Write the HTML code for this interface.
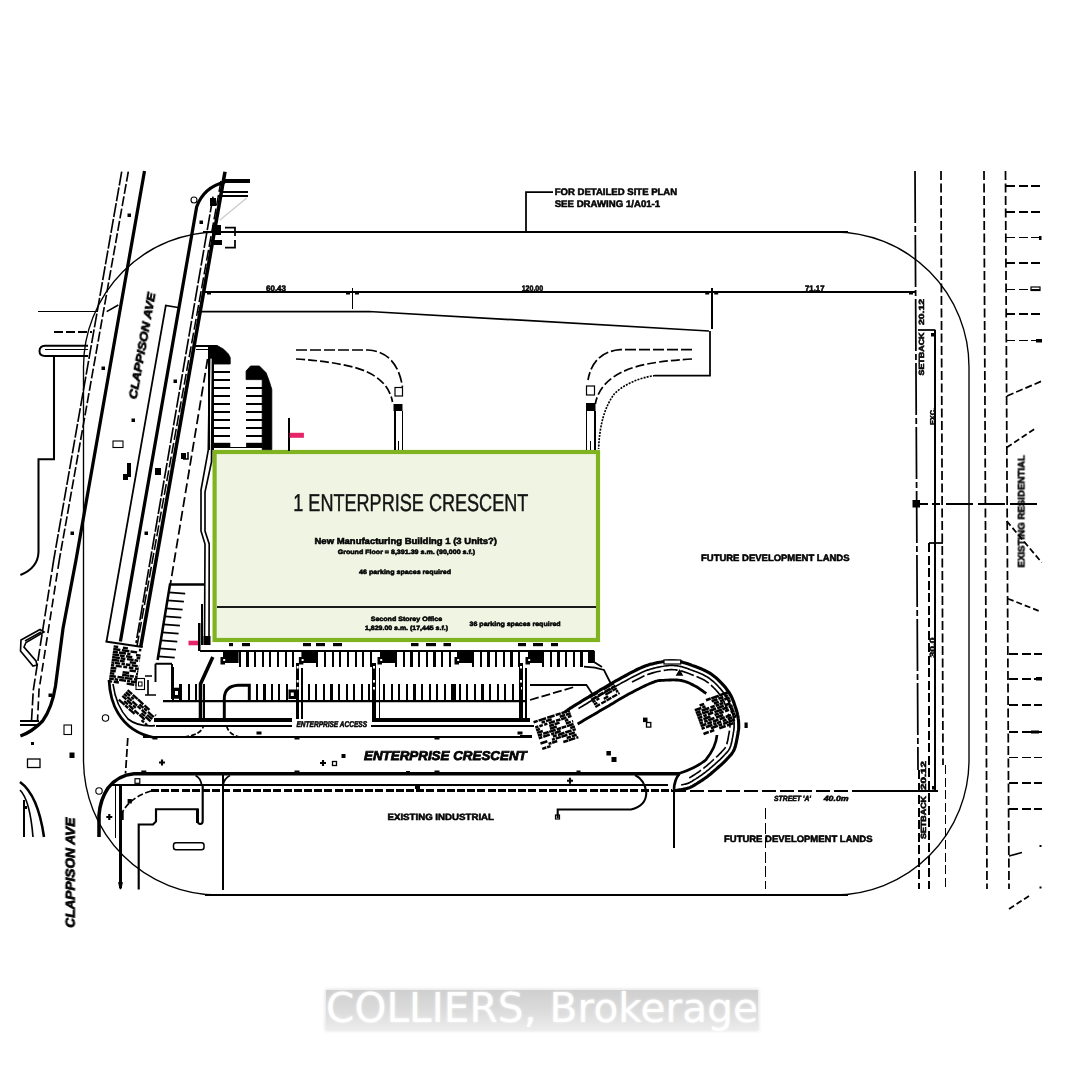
<!DOCTYPE html>
<html><head><meta charset="utf-8"><title>1 Enterprise Crescent - Site Plan</title>
<style>
html,body{margin:0;padding:0;background:#fff;}
body{width:1083px;height:1080px;overflow:hidden;position:relative;font-family:"Liberation Sans",sans-serif;}
svg{position:absolute;left:0;top:0;display:block;}
svg text{text-rendering:geometricPrecision;}
svg text{font-family:"Liberation Sans",sans-serif;}
.wm{position:absolute;left:326px;top:989.5px;width:432px;height:40px;background:linear-gradient(#cfcfcf,#dcdcdc 55%,#ececec);box-shadow:0 0 3px 1px rgba(225,225,225,.9);}
.wmt{position:absolute;left:326px;top:983px;width:432px;height:50px;line-height:50px;font-family:"DejaVu Sans","Liberation Sans",sans-serif;font-size:40.5px;color:#fff;white-space:nowrap;letter-spacing:0.12px;text-shadow:0 0 3px rgba(255,255,255,.7);}
</style></head><body>
<svg width="1083" height="1080" viewBox="0 0 1083 1080">
<rect x="83.5" y="232" width="885.5" height="663" rx="135" ry="135" fill="none" stroke="#000" stroke-width="1.35"/>
<line x1="203" y1="232" x2="848" y2="232" stroke="#000" stroke-width="2.05" shape-rendering="crispEdges"/>
<line x1="205" y1="895" x2="848" y2="895" stroke="#000" stroke-width="1.85" shape-rendering="crispEdges"/>
<line x1="205" y1="291.7" x2="915" y2="291.7" stroke="#000" stroke-width="1.85" shape-rendering="crispEdges"/>
<path d="M553,192 H526 V232" fill="none" stroke="#000" stroke-width="1.75"/>
<line x1="352.5" y1="288" x2="352.5" y2="309" stroke="#000" stroke-width="1.75" shape-rendering="crispEdges"/>
<line x1="711.7" y1="288" x2="711.7" y2="329" stroke="#000" stroke-width="1.75" shape-rendering="crispEdges"/>
<path d="M197,311.5 H369 L709,331 " fill="none" stroke="#000" stroke-width="1.75"/>
<path d="M710,331 V375.5 H655" fill="none" stroke="#000" stroke-width="1.75"/>
<line x1="38" y1="311.5" x2="98" y2="311.5" stroke="#000" stroke-width="1.75" shape-rendering="crispEdges"/>
<line x1="54" y1="332" x2="92" y2="332" stroke="#000" stroke-width="1.75" stroke-dasharray="9 3" shape-rendering="crispEdges"/>
<line x1="106.7" y1="311.7" x2="118.3" y2="305" stroke="#000" stroke-width="1.55"/>
<line x1="915" y1="171" x2="918" y2="770" stroke="#000" stroke-width="1.75" stroke-dasharray="52 3 6 3"/>
<line x1="919" y1="770" x2="919" y2="889" stroke="#000" stroke-width="1.75" stroke-dasharray="9 3.5" shape-rendering="crispEdges"/>
<line x1="941" y1="171" x2="943" y2="765" stroke="#000" stroke-width="1.75" stroke-dasharray="9 3.5"/>
<line x1="945.5" y1="765" x2="945.5" y2="889" stroke="#000" stroke-width="1.75" stroke-dasharray="9 3.5" shape-rendering="crispEdges"/>
<line x1="984" y1="171" x2="987" y2="889" stroke="#000" stroke-width="1.75" stroke-dasharray="9 3.5"/>
<line x1="1005.5" y1="171" x2="1009" y2="889" stroke="#000" stroke-width="1.75" stroke-dasharray="9 3.5"/>
<line x1="935.3" y1="330" x2="935.3" y2="790" stroke="#000" stroke-width="1.75" shape-rendering="crispEdges"/>
<line x1="929" y1="543" x2="929" y2="889" stroke="#000" stroke-width="1.75" stroke-dasharray="9 3.5" shape-rendering="crispEdges"/>
<path d="M918,330 H935.3" fill="none" stroke="#000" stroke-width="1.75"/>
<path d="M929,543 H943" fill="none" stroke="#000" stroke-width="1.75"/>
<line x1="920" y1="503.7" x2="943" y2="503.7" stroke="#000" stroke-width="1.75" stroke-dasharray="8 4" shape-rendering="crispEdges"/>
<line x1="946" y1="503.7" x2="1042" y2="503.7" stroke="#000" stroke-width="1.75" stroke-dasharray="27 5" shape-rendering="crispEdges"/>
<rect x="912.5" y="500" width="7.5" height="7.5" fill="#000" stroke="none" stroke-width="1"/>
<line x1="1006" y1="185.7" x2="1042" y2="185.7" stroke="#000" stroke-width="1.85" stroke-dasharray="9 3.5" shape-rendering="crispEdges"/>
<line x1="1006" y1="212" x2="1042" y2="212" stroke="#000" stroke-width="1.85" stroke-dasharray="9 3.5" shape-rendering="crispEdges"/>
<line x1="1006" y1="237.5" x2="1042" y2="237.5" stroke="#000" stroke-width="1.85" stroke-dasharray="9 3.5" shape-rendering="crispEdges"/>
<line x1="1006" y1="263" x2="1042" y2="263" stroke="#000" stroke-width="1.85" stroke-dasharray="9 3.5" shape-rendering="crispEdges"/>
<line x1="1006" y1="289.5" x2="1042" y2="289.5" stroke="#000" stroke-width="1.85" stroke-dasharray="9 3.5" shape-rendering="crispEdges"/>
<line x1="1006" y1="313.7" x2="1042" y2="313.7" stroke="#000" stroke-width="1.85" stroke-dasharray="9 3.5" shape-rendering="crispEdges"/>
<line x1="1006" y1="340.5" x2="1042" y2="340.5" stroke="#000" stroke-width="1.85" stroke-dasharray="9 3.5" shape-rendering="crispEdges"/>
<line x1="1009" y1="653.7" x2="1042" y2="653.7" stroke="#000" stroke-width="1.85" stroke-dasharray="9 3.5" shape-rendering="crispEdges"/>
<line x1="1009" y1="678.7" x2="1042" y2="678.7" stroke="#000" stroke-width="1.85" stroke-dasharray="9 3.5" shape-rendering="crispEdges"/>
<line x1="1009" y1="705" x2="1042" y2="705" stroke="#000" stroke-width="1.85" stroke-dasharray="9 3.5" shape-rendering="crispEdges"/>
<line x1="1009" y1="731.7" x2="1042" y2="731.7" stroke="#000" stroke-width="1.85" stroke-dasharray="9 3.5" shape-rendering="crispEdges"/>
<line x1="1009" y1="757.5" x2="1042" y2="757.5" stroke="#000" stroke-width="1.85" stroke-dasharray="9 3.5" shape-rendering="crispEdges"/>
<line x1="1009" y1="783" x2="1042" y2="783" stroke="#000" stroke-width="1.85" stroke-dasharray="9 3.5" shape-rendering="crispEdges"/>
<line x1="1009" y1="809" x2="1042" y2="809" stroke="#000" stroke-width="1.85" stroke-dasharray="9 3.5" shape-rendering="crispEdges"/>
<line x1="1007" y1="396" x2="1042" y2="381" stroke="#000" stroke-width="1.75" stroke-dasharray="7 3"/>
<line x1="1006.7" y1="447.5" x2="1036.7" y2="427.5" stroke="#000" stroke-width="1.75" stroke-dasharray="6 3"/>
<line x1="1006.7" y1="521" x2="1041.7" y2="562.5" stroke="#000" stroke-width="1.75" stroke-dasharray="6 3"/>
<line x1="1008" y1="598.7" x2="1039" y2="611" stroke="#000" stroke-width="1.75" stroke-dasharray="6 3"/>
<line x1="1009" y1="856" x2="1022" y2="852.5" stroke="#000" stroke-width="1.75"/>
<line x1="1009" y1="909" x2="1029" y2="896" stroke="#000" stroke-width="1.75" stroke-dasharray="6 3"/>
<line x1="672" y1="790.7" x2="860" y2="790.7" stroke="#000" stroke-width="1.75" stroke-dasharray="14 4" shape-rendering="crispEdges"/>
<line x1="860" y1="790.7" x2="937.5" y2="790.7" stroke="#000" stroke-width="1.85" shape-rendering="crispEdges"/>
<rect x="214.6" y="452" width="383.4" height="188" fill="#f0f4e3" stroke="#80b320" stroke-width="4.2"/>
<line x1="216.5" y1="607.3" x2="596" y2="607.3" stroke="#1a1a1a" stroke-width="1.75" shape-rendering="crispEdges"/>
<path d="M144.5,171 L76,560 L63,628.5 L55.5,686 Q52,708 42.6,721 Q32,732 20.4,736" fill="none" stroke="#000" stroke-width="3.25"/>
<line x1="121.7" y1="171.7" x2="53.7" y2="560" stroke="#000" stroke-width="1.65" stroke-dasharray="14 2"/>
<line x1="128.3" y1="171.7" x2="59.3" y2="560" stroke="#000" stroke-width="1.65" stroke-dasharray="10 2.5"/>
<path d="M53.7,560 L33.3,690 L31.5,721" fill="none" stroke="#000" stroke-width="1.65" stroke-dasharray="12 3"/>
<path d="M59.3,560 L39,690 L37.5,721" fill="none" stroke="#000" stroke-width="1.65" stroke-dasharray="9 4"/>
<line x1="20" y1="721" x2="39" y2="721" stroke="#000" stroke-width="1.75" shape-rendering="crispEdges"/>
<line x1="20" y1="725" x2="39" y2="725" stroke="#000" stroke-width="1.75" shape-rendering="crispEdges"/>
<path d="M21,640 L40,629.5 L44,632 L26,642.5 L24,647 L36,661 L37,665 L33,666 L20.5,651 Z" fill="none" stroke="#000" stroke-width="1.65"/>
<path d="M25,641 L41,632" fill="none" stroke="#000" stroke-width="1.55"/>
<path d="M178,307.5 L165.8,305.5 L106.5,641.5" fill="none" stroke="#000" stroke-width="1.75"/>
<path d="M225,182 Q204,187 196.7,206.7 L120.4,641.5" fill="none" stroke="#000" stroke-width="3.25"/>
<line x1="222.5" y1="181.2" x2="250" y2="181.2" stroke="#000" stroke-width="3.75" shape-rendering="crispEdges"/>
<path d="M213,196.7 L136,643" fill="none" stroke="#000" stroke-width="1.65" stroke-dasharray="16 2"/>
<path d="M225,171.7 L140.7,647" fill="none" stroke="#000" stroke-width="3.55"/>
<path d="M221,181 L137,646" fill="none" stroke="#000" stroke-width="1.55" stroke-dasharray="11 3"/>
<line x1="105.5" y1="641.5" x2="142.6" y2="647" stroke="#000" stroke-width="1.85"/>
<line x1="207.6" y1="359" x2="170.4" y2="584" stroke="#000" stroke-width="1.75" stroke-dasharray="10 4"/>
<path d="M209.6,359 L208.3,450 L201,490 L201,531 L205,544 L204.5,645" fill="none" stroke="#000" stroke-width="1.65"/>
<path d="M212.5,359 L211.5,462 L205,492 L205,531 L209.2,544 L209,645" fill="none" stroke="#000" stroke-width="1.65"/>
<line x1="221.7" y1="191.7" x2="247.5" y2="191.7" stroke="#000" stroke-width="1.85" shape-rendering="crispEdges"/>
<line x1="221.7" y1="195.8" x2="247.5" y2="195.8" stroke="#000" stroke-width="1.85" shape-rendering="crispEdges"/>
<line x1="246.7" y1="198" x2="220" y2="220" stroke="#ccc" stroke-width="1.35"/>
<path d="M225,227.5 H235 V236 M235,240 V247.5 H225" fill="none" stroke="#000" stroke-width="1.75"/>
<rect x="210" y="198" width="6" height="8" fill="#000" stroke="none" stroke-width="1"/>
<rect x="212" y="225" width="9" height="10" fill="#000" stroke="none" stroke-width="1"/>
<rect x="214" y="240" width="8" height="5" fill="#000" stroke="none" stroke-width="1"/>
<circle cx="194" cy="200" r="3" fill="none" stroke="#000" stroke-width="1.1"/>
<rect x="127.5" y="213.5" width="3.5" height="3.5" fill="#000" stroke="none" stroke-width="1"/>
<rect x="199.5" y="220.5" width="3.5" height="3.5" fill="#000" stroke="none" stroke-width="1"/>
<rect x="101.5" y="366.5" width="3.5" height="3.5" fill="#000" stroke="none" stroke-width="1"/>
<rect x="131.5" y="418.5" width="3.5" height="3.5" fill="#000" stroke="none" stroke-width="1"/>
<rect x="173.5" y="379.5" width="3.5" height="3.5" fill="#000" stroke="none" stroke-width="1"/>
<rect x="70.5" y="531.5" width="3.5" height="3.5" fill="#000" stroke="none" stroke-width="1"/>
<rect x="144.5" y="531.5" width="3.5" height="3.5" fill="#000" stroke="none" stroke-width="1"/>
<rect x="48.5" y="693.5" width="3.5" height="3.5" fill="#000" stroke="none" stroke-width="1"/>
<rect x="113" y="441" width="10" height="6.5" fill="none" stroke="#000" stroke-width="1.1"/>
<rect x="127" y="463" width="4" height="14" fill="#000" stroke="none" stroke-width="1"/>
<rect x="123" y="474" width="5" height="6" fill="#000" stroke="none" stroke-width="1"/>
<rect x="155" y="468" width="6" height="7" fill="#000" stroke="none" stroke-width="1"/>
<rect x="181" y="453" width="5" height="6" fill="#000" stroke="none" stroke-width="1"/>
<path d="M188,452 V459 H183" fill="none" stroke="#000" stroke-width="1.55"/>
<path d="M88,345.7 H45 Q39.5,346 39.5,351 Q39.5,356 45,356 H88" fill="none" stroke="#000" stroke-width="1.95"/>
<line x1="45" y1="349.7" x2="88" y2="349.7" stroke="#000" stroke-width="1.55" shape-rendering="crispEdges"/>
<path d="M54,356 V459.3 H38.5 V552 Q38,568 20.4,575" fill="none" stroke="#000" stroke-width="2.05"/>
<path d="M20,782 Q38,795 44,837" fill="none" stroke="#000" stroke-width="2.55"/>
<path d="M20,790 Q30,800 33,837" fill="none" stroke="#000" stroke-width="1.65"/>
<line x1="24" y1="800" x2="24" y2="837" stroke="#000" stroke-width="1.65" shape-rendering="crispEdges"/>
<rect x="64" y="725" width="7.5" height="9.5" fill="none" stroke="#000" stroke-width="1.1"/>
<rect x="27.5" y="759" width="12.5" height="8.5" fill="none" stroke="#000" stroke-width="1.3"/>
<rect x="69.5" y="752.5" width="5" height="5.5" fill="#000" stroke="none" stroke-width="1"/>
<circle cx="105.5" cy="718" r="3.2" fill="none" stroke="#000" stroke-width="1.1"/>
<circle cx="99" cy="791" r="3.2" fill="none" stroke="#000" stroke-width="1.1"/>
<rect x="24" y="806" width="3" height="3" fill="#000" stroke="none" stroke-width="1"/>
<rect x="31" y="742" width="3" height="3" fill="#000" stroke="none" stroke-width="1"/>
<line x1="208.9" y1="346" x2="208.9" y2="450" stroke="#000" stroke-width="2.05" shape-rendering="crispEdges"/>
<line x1="213.3" y1="358" x2="213.3" y2="450" stroke="#000" stroke-width="2.05" shape-rendering="crispEdges"/>
<line x1="195" y1="346" x2="217" y2="346" stroke="#000" stroke-width="1.85" shape-rendering="crispEdges"/>
<line x1="196" y1="349.5" x2="208.5" y2="349.5" stroke="#000" stroke-width="1.65" shape-rendering="crispEdges"/>
<path d="M209.4,345.5 H217.2 L223.9,349.4 L228.3,353.9 L230.2,357.5 V364 H213.3 V358.3 H209.4 Z" fill="#000" stroke="#000" stroke-width="0.85"/>
<line x1="214" y1="371.7" x2="230.2" y2="371.7" stroke="#000" stroke-width="1.8" shape-rendering="crispEdges"/>
<line x1="214" y1="379.7" x2="230.2" y2="379.7" stroke="#000" stroke-width="1.8" shape-rendering="crispEdges"/>
<line x1="214" y1="387.7" x2="230.2" y2="387.7" stroke="#000" stroke-width="1.8" shape-rendering="crispEdges"/>
<line x1="214" y1="395.7" x2="230.2" y2="395.7" stroke="#000" stroke-width="1.8" shape-rendering="crispEdges"/>
<line x1="214" y1="403.7" x2="230.2" y2="403.7" stroke="#000" stroke-width="1.8" shape-rendering="crispEdges"/>
<line x1="214" y1="411.8" x2="230.2" y2="411.8" stroke="#000" stroke-width="1.8" shape-rendering="crispEdges"/>
<line x1="214" y1="419.8" x2="230.2" y2="419.8" stroke="#000" stroke-width="1.8" shape-rendering="crispEdges"/>
<line x1="214" y1="427.8" x2="230.2" y2="427.8" stroke="#000" stroke-width="1.8" shape-rendering="crispEdges"/>
<line x1="214" y1="435.8" x2="230.2" y2="435.8" stroke="#000" stroke-width="1.8" shape-rendering="crispEdges"/>
<rect x="213.3" y="442.8" width="17" height="5.2" fill="#000" stroke="none" stroke-width="1"/>
<path d="M246.1,379.6 V371 L250.6,366 H259.4 L266.1,372.8 L269.4,381.7 L271.8,389.4 V449.6 H262.2 V379.6 Z" fill="#000" stroke="#000" stroke-width="0.85"/>
<line x1="246.1" y1="387.7" x2="262.5" y2="387.7" stroke="#000" stroke-width="1.8" shape-rendering="crispEdges"/>
<line x1="246.1" y1="395.7" x2="262.5" y2="395.7" stroke="#000" stroke-width="1.8" shape-rendering="crispEdges"/>
<line x1="246.1" y1="403.7" x2="262.5" y2="403.7" stroke="#000" stroke-width="1.8" shape-rendering="crispEdges"/>
<line x1="246.1" y1="411.8" x2="262.5" y2="411.8" stroke="#000" stroke-width="1.8" shape-rendering="crispEdges"/>
<line x1="246.1" y1="419.8" x2="262.5" y2="419.8" stroke="#000" stroke-width="1.8" shape-rendering="crispEdges"/>
<line x1="246.1" y1="427.8" x2="262.5" y2="427.8" stroke="#000" stroke-width="1.8" shape-rendering="crispEdges"/>
<line x1="246.1" y1="435.8" x2="262.5" y2="435.8" stroke="#000" stroke-width="1.8" shape-rendering="crispEdges"/>
<rect x="246.1" y="442.8" width="16.5" height="5.2" fill="#000" stroke="none" stroke-width="1"/>
<line x1="230" y1="447.6" x2="246.5" y2="447.6" stroke="#000" stroke-width="1.45" shape-rendering="crispEdges"/>
<line x1="288.8" y1="417.5" x2="288.8" y2="451" stroke="#000" stroke-width="1.95" shape-rendering="crispEdges"/>
<rect x="289.6" y="432.8" width="14.3" height="5" fill="#e6246a" stroke="none" stroke-width="1"/>
<rect x="188.5" y="640.7" width="10.5" height="4.6" fill="#e6246a" stroke="none" stroke-width="1"/>
<rect x="198" y="623" width="2.5" height="28" fill="#000" stroke="none" stroke-width="1"/>
<path d="M296,350 H368 Q397,352 402.5,387" fill="none" stroke="#000" stroke-width="1.7" stroke-dasharray="11 3"/>
<path d="M296,359 Q330,361 355,367.5 Q388,377 392.5,402" fill="none" stroke="#000" stroke-width="1.7" stroke-dasharray="9 3"/>
<rect x="395" y="387.5" width="7.5" height="8.5" fill="none" stroke="#000" stroke-width="1.2"/>
<rect x="393.5" y="404" width="9" height="7" fill="#000" stroke="none" stroke-width="1"/>
<line x1="395" y1="411" x2="395" y2="450" stroke="#000" stroke-width="1.85" shape-rendering="crispEdges"/>
<line x1="402.5" y1="411" x2="402.5" y2="450" stroke="#000" stroke-width="1.85" shape-rendering="crispEdges"/>
<line x1="398.5" y1="441" x2="398.5" y2="450" stroke="#000" stroke-width="1.25" shape-rendering="crispEdges"/>
<path d="M692,349.7 H620 Q593,352 588,380" fill="none" stroke="#000" stroke-width="1.7" stroke-dasharray="11 3"/>
<path d="M692,359 Q655,361 635,367 Q600,378 595.3,404" fill="none" stroke="#000" stroke-width="1.7" stroke-dasharray="9 3"/>
<path d="M655,375.5 Q631,379 615,393 Q600,412 598.6,449" fill="none" stroke="#000" stroke-width="1.65" stroke-dasharray="2 1.2"/>
<rect x="586.5" y="386" width="8" height="9" fill="none" stroke="#000" stroke-width="1.2"/>
<rect x="586" y="403" width="9.5" height="8" fill="#000" stroke="none" stroke-width="1"/>
<line x1="586.5" y1="411" x2="586.5" y2="450" stroke="#000" stroke-width="1.85" shape-rendering="crispEdges"/>
<line x1="595" y1="411" x2="595" y2="450" stroke="#000" stroke-width="1.85" shape-rendering="crispEdges"/>
<line x1="590.5" y1="441" x2="590.5" y2="450" stroke="#000" stroke-width="1.25" shape-rendering="crispEdges"/>
<path d="M204,584.4 H170 L157.6,660" fill="none" stroke="#000" stroke-width="2.55"/>
<line x1="168.7" y1="592.4" x2="185.2" y2="593.6" stroke="#000" stroke-width="1.95"/>
<line x1="167.4" y1="600.4" x2="183.9" y2="601.6" stroke="#000" stroke-width="1.95"/>
<line x1="166.1" y1="608.4" x2="182.6" y2="609.6" stroke="#000" stroke-width="1.95"/>
<line x1="164.8" y1="616.4" x2="181.3" y2="617.6" stroke="#000" stroke-width="1.95"/>
<line x1="163.4" y1="624.4" x2="179.9" y2="625.6" stroke="#000" stroke-width="1.95"/>
<line x1="162.1" y1="632.4" x2="178.6" y2="633.6" stroke="#000" stroke-width="1.95"/>
<line x1="160.8" y1="640.4" x2="177.3" y2="641.6" stroke="#000" stroke-width="1.95"/>
<line x1="159.5" y1="648.4" x2="176.0" y2="649.6" stroke="#000" stroke-width="1.95"/>
<line x1="158.2" y1="656.4" x2="174.7" y2="657.6" stroke="#000" stroke-width="1.95"/>
<line x1="202.3" y1="604" x2="202.3" y2="645" stroke="#000" stroke-width="1.85" shape-rendering="crispEdges"/>
<path d="M155.5,663.7 V682 M155.5,663.7 H172 M172,664 V699" fill="none" stroke="#000" stroke-width="1.95"/>
<rect x="173" y="689.6" width="7.5" height="8.5" fill="#000" stroke="none" stroke-width="1"/>
<rect x="136" y="678.5" width="8.5" height="11" fill="none" stroke="#000" stroke-width="1.1"/>
<rect x="138.5" y="682" width="3.5" height="4" fill="none" stroke="#000" stroke-width="1"/>
<path d="M145,676 H152 M148,680 V695 M145,695 H156" fill="none" stroke="#000" stroke-width="1.65"/>
<g transform="rotate(8 124 666)">
<line x1="111" y1="648" x2="115.6" y2="648" stroke="#000" stroke-width="2.45" shape-rendering="auto"/>
<line x1="120.4" y1="648" x2="125.4" y2="648" stroke="#000" stroke-width="2.45" shape-rendering="auto"/>
<line x1="136.5" y1="648" x2="139" y2="648" stroke="#000" stroke-width="2.45" shape-rendering="auto"/>
<line x1="111" y1="650.7" x2="118.1" y2="650.7" stroke="#000" stroke-width="2.45" shape-rendering="auto"/>
<line x1="119.7" y1="650.7" x2="127.3" y2="650.7" stroke="#000" stroke-width="2.45" shape-rendering="auto"/>
<line x1="128.4" y1="650.7" x2="135.1" y2="650.7" stroke="#000" stroke-width="2.45" shape-rendering="auto"/>
<line x1="111" y1="653.4" x2="116.1" y2="653.4" stroke="#000" stroke-width="2.45" shape-rendering="auto"/>
<line x1="117.1" y1="653.4" x2="124.2" y2="653.4" stroke="#000" stroke-width="2.45" shape-rendering="auto"/>
<line x1="125.5" y1="653.4" x2="128.7" y2="653.4" stroke="#000" stroke-width="2.45" shape-rendering="auto"/>
<line x1="134.4" y1="653.4" x2="139" y2="653.4" stroke="#000" stroke-width="2.45" shape-rendering="auto"/>
<line x1="111" y1="656.1" x2="117.8" y2="656.1" stroke="#000" stroke-width="2.45" shape-rendering="auto"/>
<line x1="118.5" y1="656.1" x2="123.3" y2="656.1" stroke="#000" stroke-width="2.45" shape-rendering="auto"/>
<line x1="124.7" y1="656.1" x2="131.0" y2="656.1" stroke="#000" stroke-width="2.45" shape-rendering="auto"/>
<line x1="135.4" y1="656.1" x2="139" y2="656.1" stroke="#000" stroke-width="2.45" shape-rendering="auto"/>
<line x1="111" y1="658.8" x2="118.8" y2="658.8" stroke="#000" stroke-width="2.45" shape-rendering="auto"/>
<line x1="119.6" y1="658.8" x2="124.4" y2="658.8" stroke="#000" stroke-width="2.45" shape-rendering="auto"/>
<line x1="126.0" y1="658.8" x2="132.7" y2="658.8" stroke="#000" stroke-width="2.45" shape-rendering="auto"/>
<line x1="133.6" y1="658.8" x2="137.3" y2="658.8" stroke="#000" stroke-width="2.45" shape-rendering="auto"/>
<line x1="138.6" y1="658.8" x2="139" y2="658.8" stroke="#000" stroke-width="2.45" shape-rendering="auto"/>
<line x1="111" y1="661.5" x2="118.6" y2="661.5" stroke="#000" stroke-width="2.45" shape-rendering="auto"/>
<line x1="119.2" y1="661.5" x2="124.0" y2="661.5" stroke="#000" stroke-width="2.45" shape-rendering="auto"/>
<line x1="129.2" y1="661.5" x2="135.6" y2="661.5" stroke="#000" stroke-width="2.45" shape-rendering="auto"/>
<line x1="111" y1="664.2" x2="114.0" y2="664.2" stroke="#000" stroke-width="2.45" shape-rendering="auto"/>
<line x1="114.5" y1="664.2" x2="119.8" y2="664.2" stroke="#000" stroke-width="2.45" shape-rendering="auto"/>
<line x1="121.2" y1="664.2" x2="124.6" y2="664.2" stroke="#000" stroke-width="2.45" shape-rendering="auto"/>
<line x1="125.6" y1="664.2" x2="130.2" y2="664.2" stroke="#000" stroke-width="2.45" shape-rendering="auto"/>
<line x1="131.5" y1="664.2" x2="137.6" y2="664.2" stroke="#000" stroke-width="2.45" shape-rendering="auto"/>
<line x1="138.7" y1="664.2" x2="139" y2="664.2" stroke="#000" stroke-width="2.45" shape-rendering="auto"/>
<line x1="111" y1="666.9" x2="114.3" y2="666.9" stroke="#000" stroke-width="2.45" shape-rendering="auto"/>
<line x1="115.7" y1="666.9" x2="121.9" y2="666.9" stroke="#000" stroke-width="2.45" shape-rendering="auto"/>
<line x1="123.4" y1="666.9" x2="127.4" y2="666.9" stroke="#000" stroke-width="2.45" shape-rendering="auto"/>
<line x1="129.0" y1="666.9" x2="133.6" y2="666.9" stroke="#000" stroke-width="2.45" shape-rendering="auto"/>
<line x1="135.2" y1="666.9" x2="139" y2="666.9" stroke="#000" stroke-width="2.45" shape-rendering="auto"/>
<line x1="111" y1="669.6" x2="116.8" y2="669.6" stroke="#000" stroke-width="2.45" shape-rendering="auto"/>
<line x1="130.1" y1="669.6" x2="136.5" y2="669.6" stroke="#000" stroke-width="2.45" shape-rendering="auto"/>
<line x1="137.7" y1="669.6" x2="139" y2="669.6" stroke="#000" stroke-width="2.45" shape-rendering="auto"/>
<line x1="111" y1="672.3" x2="116.6" y2="672.3" stroke="#000" stroke-width="2.45" shape-rendering="auto"/>
<line x1="123.5" y1="672.3" x2="130.1" y2="672.3" stroke="#000" stroke-width="2.45" shape-rendering="auto"/>
<line x1="137.0" y1="672.3" x2="139" y2="672.3" stroke="#000" stroke-width="2.45" shape-rendering="auto"/>
<line x1="111" y1="675.0" x2="115.5" y2="675.0" stroke="#000" stroke-width="2.45" shape-rendering="auto"/>
<line x1="123.4" y1="675.0" x2="130.8" y2="675.0" stroke="#000" stroke-width="2.45" shape-rendering="auto"/>
<line x1="131.2" y1="675.0" x2="135.2" y2="675.0" stroke="#000" stroke-width="2.45" shape-rendering="auto"/>
<line x1="136.4" y1="675.0" x2="139" y2="675.0" stroke="#000" stroke-width="2.45" shape-rendering="auto"/>
<line x1="111" y1="677.7" x2="117.5" y2="677.7" stroke="#000" stroke-width="2.45" shape-rendering="auto"/>
<line x1="119.1" y1="677.7" x2="125.6" y2="677.7" stroke="#000" stroke-width="2.45" shape-rendering="auto"/>
<line x1="126.2" y1="677.7" x2="134.1" y2="677.7" stroke="#000" stroke-width="2.45" shape-rendering="auto"/>
<line x1="135.7" y1="677.7" x2="139" y2="677.7" stroke="#000" stroke-width="2.45" shape-rendering="auto"/>
<line x1="111" y1="680.4" x2="115.7" y2="680.4" stroke="#000" stroke-width="2.45" shape-rendering="auto"/>
<line x1="116.5" y1="680.4" x2="120.1" y2="680.4" stroke="#000" stroke-width="2.45" shape-rendering="auto"/>
<line x1="121.1" y1="680.4" x2="128.1" y2="680.4" stroke="#000" stroke-width="2.45" shape-rendering="auto"/>
<line x1="129.1" y1="680.4" x2="132.2" y2="680.4" stroke="#000" stroke-width="2.45" shape-rendering="auto"/>
<line x1="132.9" y1="680.4" x2="139" y2="680.4" stroke="#000" stroke-width="2.45" shape-rendering="auto"/>
<line x1="111" y1="683.1" x2="114.4" y2="683.1" stroke="#000" stroke-width="2.45" shape-rendering="auto"/>
<line x1="116.0" y1="683.1" x2="121.2" y2="683.1" stroke="#000" stroke-width="2.45" shape-rendering="auto"/>
<line x1="129.1" y1="683.1" x2="136.7" y2="683.1" stroke="#000" stroke-width="2.45" shape-rendering="auto"/>
<line x1="138.0" y1="683.1" x2="139" y2="683.1" stroke="#000" stroke-width="2.45" shape-rendering="auto"/>
</g>
<g transform="rotate(42 137 708)">
<line x1="118" y1="701" x2="124.1" y2="701" stroke="#000" stroke-width="2.35" shape-rendering="auto"/>
<line x1="125.0" y1="701" x2="131.6" y2="701" stroke="#000" stroke-width="2.35" shape-rendering="auto"/>
<line x1="132.0" y1="701" x2="139.2" y2="701" stroke="#000" stroke-width="2.35" shape-rendering="auto"/>
<line x1="140.8" y1="701" x2="147.4" y2="701" stroke="#000" stroke-width="2.35" shape-rendering="auto"/>
<line x1="155.2" y1="701" x2="156" y2="701" stroke="#000" stroke-width="2.35" shape-rendering="auto"/>
<line x1="118" y1="703.6" x2="123.8" y2="703.6" stroke="#000" stroke-width="2.35" shape-rendering="auto"/>
<line x1="125.3" y1="703.6" x2="128.6" y2="703.6" stroke="#000" stroke-width="2.35" shape-rendering="auto"/>
<line x1="136.3" y1="703.6" x2="141.8" y2="703.6" stroke="#000" stroke-width="2.35" shape-rendering="auto"/>
<line x1="142.6" y1="703.6" x2="146.3" y2="703.6" stroke="#000" stroke-width="2.35" shape-rendering="auto"/>
<line x1="147.8" y1="703.6" x2="155.5" y2="703.6" stroke="#000" stroke-width="2.35" shape-rendering="auto"/>
<line x1="118" y1="706.2" x2="121.8" y2="706.2" stroke="#000" stroke-width="2.35" shape-rendering="auto"/>
<line x1="122.2" y1="706.2" x2="128.2" y2="706.2" stroke="#000" stroke-width="2.35" shape-rendering="auto"/>
<line x1="129.2" y1="706.2" x2="135.5" y2="706.2" stroke="#000" stroke-width="2.35" shape-rendering="auto"/>
<line x1="136.2" y1="706.2" x2="140.4" y2="706.2" stroke="#000" stroke-width="2.35" shape-rendering="auto"/>
<line x1="141.7" y1="706.2" x2="147.8" y2="706.2" stroke="#000" stroke-width="2.35" shape-rendering="auto"/>
<line x1="149.1" y1="706.2" x2="155.8" y2="706.2" stroke="#000" stroke-width="2.35" shape-rendering="auto"/>
<line x1="118" y1="708.8" x2="123.4" y2="708.8" stroke="#000" stroke-width="2.35" shape-rendering="auto"/>
<line x1="124.3" y1="708.8" x2="131.1" y2="708.8" stroke="#000" stroke-width="2.35" shape-rendering="auto"/>
<line x1="132.3" y1="708.8" x2="136.0" y2="708.8" stroke="#000" stroke-width="2.35" shape-rendering="auto"/>
<line x1="143.6" y1="708.8" x2="148.3" y2="708.8" stroke="#000" stroke-width="2.35" shape-rendering="auto"/>
<line x1="149.1" y1="708.8" x2="156" y2="708.8" stroke="#000" stroke-width="2.35" shape-rendering="auto"/>
<line x1="122.8" y1="711.4" x2="127.9" y2="711.4" stroke="#000" stroke-width="2.35" shape-rendering="auto"/>
<line x1="129.0" y1="711.4" x2="135.1" y2="711.4" stroke="#000" stroke-width="2.35" shape-rendering="auto"/>
<line x1="136.6" y1="711.4" x2="142.2" y2="711.4" stroke="#000" stroke-width="2.35" shape-rendering="auto"/>
<line x1="143.3" y1="711.4" x2="150.5" y2="711.4" stroke="#000" stroke-width="2.35" shape-rendering="auto"/>
<line x1="118" y1="714.0" x2="125.8" y2="714.0" stroke="#000" stroke-width="2.35" shape-rendering="auto"/>
<line x1="126.5" y1="714.0" x2="130.4" y2="714.0" stroke="#000" stroke-width="2.35" shape-rendering="auto"/>
<line x1="131.5" y1="714.0" x2="139.2" y2="714.0" stroke="#000" stroke-width="2.35" shape-rendering="auto"/>
<line x1="148.5" y1="714.0" x2="151.8" y2="714.0" stroke="#000" stroke-width="2.35" shape-rendering="auto"/>
<line x1="153.3" y1="714.0" x2="156" y2="714.0" stroke="#000" stroke-width="2.35" shape-rendering="auto"/>
</g>
<line x1="200" y1="650.8" x2="594" y2="650.8" stroke="#000" stroke-width="1.75" shape-rendering="crispEdges"/>
<line x1="239.8" y1="650.8" x2="239.8" y2="667.4" stroke="#000" stroke-width="2.05" shape-rendering="crispEdges"/>
<line x1="247.5" y1="650.8" x2="247.5" y2="667.4" stroke="#000" stroke-width="2.05" shape-rendering="crispEdges"/>
<line x1="255.1" y1="650.8" x2="255.1" y2="667.4" stroke="#000" stroke-width="2.05" shape-rendering="crispEdges"/>
<line x1="262.8" y1="650.8" x2="262.8" y2="667.4" stroke="#000" stroke-width="2.05" shape-rendering="crispEdges"/>
<line x1="270.4" y1="650.8" x2="270.4" y2="667.4" stroke="#000" stroke-width="2.05" shape-rendering="crispEdges"/>
<line x1="278.1" y1="650.8" x2="278.1" y2="667.4" stroke="#000" stroke-width="2.05" shape-rendering="crispEdges"/>
<line x1="285.8" y1="650.8" x2="285.8" y2="667.4" stroke="#000" stroke-width="2.05" shape-rendering="crispEdges"/>
<line x1="293.4" y1="650.8" x2="293.4" y2="667.4" stroke="#000" stroke-width="2.05" shape-rendering="crispEdges"/>
<line x1="317.4" y1="650.8" x2="317.4" y2="667.4" stroke="#000" stroke-width="2.05" shape-rendering="crispEdges"/>
<line x1="325.1" y1="650.8" x2="325.1" y2="667.4" stroke="#000" stroke-width="2.05" shape-rendering="crispEdges"/>
<line x1="332.7" y1="650.8" x2="332.7" y2="667.4" stroke="#000" stroke-width="2.05" shape-rendering="crispEdges"/>
<line x1="340.4" y1="650.8" x2="340.4" y2="667.4" stroke="#000" stroke-width="2.05" shape-rendering="crispEdges"/>
<line x1="348.0" y1="650.8" x2="348.0" y2="667.4" stroke="#000" stroke-width="2.05" shape-rendering="crispEdges"/>
<line x1="355.7" y1="650.8" x2="355.7" y2="667.4" stroke="#000" stroke-width="2.05" shape-rendering="crispEdges"/>
<line x1="363.4" y1="650.8" x2="363.4" y2="667.4" stroke="#000" stroke-width="2.05" shape-rendering="crispEdges"/>
<line x1="371.0" y1="650.8" x2="371.0" y2="667.4" stroke="#000" stroke-width="2.05" shape-rendering="crispEdges"/>
<line x1="396.2" y1="650.8" x2="396.2" y2="667.4" stroke="#000" stroke-width="2.05" shape-rendering="crispEdges"/>
<line x1="403.9" y1="650.8" x2="403.9" y2="667.4" stroke="#000" stroke-width="2.05" shape-rendering="crispEdges"/>
<line x1="411.5" y1="650.8" x2="411.5" y2="667.4" stroke="#000" stroke-width="2.05" shape-rendering="crispEdges"/>
<line x1="419.2" y1="650.8" x2="419.2" y2="667.4" stroke="#000" stroke-width="2.05" shape-rendering="crispEdges"/>
<line x1="426.8" y1="650.8" x2="426.8" y2="667.4" stroke="#000" stroke-width="2.05" shape-rendering="crispEdges"/>
<line x1="434.5" y1="650.8" x2="434.5" y2="667.4" stroke="#000" stroke-width="2.05" shape-rendering="crispEdges"/>
<line x1="442.2" y1="650.8" x2="442.2" y2="667.4" stroke="#000" stroke-width="2.05" shape-rendering="crispEdges"/>
<line x1="449.8" y1="650.8" x2="449.8" y2="667.4" stroke="#000" stroke-width="2.05" shape-rendering="crispEdges"/>
<line x1="473.2" y1="650.8" x2="473.2" y2="667.4" stroke="#000" stroke-width="2.05" shape-rendering="crispEdges"/>
<line x1="480.9" y1="650.8" x2="480.9" y2="667.4" stroke="#000" stroke-width="2.05" shape-rendering="crispEdges"/>
<line x1="488.5" y1="650.8" x2="488.5" y2="667.4" stroke="#000" stroke-width="2.05" shape-rendering="crispEdges"/>
<line x1="496.2" y1="650.8" x2="496.2" y2="667.4" stroke="#000" stroke-width="2.05" shape-rendering="crispEdges"/>
<line x1="503.8" y1="650.8" x2="503.8" y2="667.4" stroke="#000" stroke-width="2.05" shape-rendering="crispEdges"/>
<line x1="511.5" y1="650.8" x2="511.5" y2="667.4" stroke="#000" stroke-width="2.05" shape-rendering="crispEdges"/>
<line x1="519.2" y1="650.8" x2="519.2" y2="667.4" stroke="#000" stroke-width="2.05" shape-rendering="crispEdges"/>
<line x1="543.2" y1="650.8" x2="543.2" y2="667.4" stroke="#000" stroke-width="2.05" shape-rendering="crispEdges"/>
<line x1="550.9" y1="650.8" x2="550.9" y2="667.4" stroke="#000" stroke-width="2.05" shape-rendering="crispEdges"/>
<line x1="558.5" y1="650.8" x2="558.5" y2="667.4" stroke="#000" stroke-width="2.05" shape-rendering="crispEdges"/>
<line x1="566.2" y1="650.8" x2="566.2" y2="667.4" stroke="#000" stroke-width="2.05" shape-rendering="crispEdges"/>
<line x1="573.8" y1="650.8" x2="573.8" y2="667.4" stroke="#000" stroke-width="2.05" shape-rendering="crispEdges"/>
<line x1="581.5" y1="650.8" x2="581.5" y2="667.4" stroke="#000" stroke-width="2.05" shape-rendering="crispEdges"/>
<rect x="223" y="651.5" width="15.599999999999994" height="11.5" fill="#000" stroke="none" stroke-width="1"/>
<rect x="301.4" y="651.5" width="14.800000000000011" height="11.5" fill="#000" stroke="none" stroke-width="1"/>
<rect x="380" y="651.5" width="15" height="11.5" fill="#000" stroke="none" stroke-width="1"/>
<rect x="457" y="651.5" width="15" height="11.5" fill="#000" stroke="none" stroke-width="1"/>
<rect x="528" y="651.5" width="14" height="11.5" fill="#000" stroke="none" stroke-width="1"/>
<rect x="588" y="651.5" width="6" height="11.5" fill="#000" stroke="none" stroke-width="1"/>
<rect x="220.5" y="657" width="4.5" height="7.5" fill="#000" stroke="none" stroke-width="1"/>
<rect x="223.2" y="659" width="2" height="2" fill="#fff" stroke="none" stroke-width="1"/>
<rect x="298.9" y="657" width="4.5" height="7.5" fill="#000" stroke="none" stroke-width="1"/>
<rect x="301.59999999999997" y="659" width="2" height="2" fill="#fff" stroke="none" stroke-width="1"/>
<rect x="377.5" y="657" width="4.5" height="7.5" fill="#000" stroke="none" stroke-width="1"/>
<rect x="380.2" y="659" width="2" height="2" fill="#fff" stroke="none" stroke-width="1"/>
<rect x="454.5" y="657" width="4.5" height="7.5" fill="#000" stroke="none" stroke-width="1"/>
<rect x="457.2" y="659" width="2" height="2" fill="#fff" stroke="none" stroke-width="1"/>
<rect x="525.5" y="657" width="4.5" height="7.5" fill="#000" stroke="none" stroke-width="1"/>
<rect x="528.2" y="659" width="2" height="2" fill="#fff" stroke="none" stroke-width="1"/>
<rect x="229" y="643" width="4" height="3.2" fill="#000" stroke="none" stroke-width="1"/>
<rect x="242" y="643" width="8" height="3.2" fill="#000" stroke="none" stroke-width="1"/>
<rect x="303" y="643" width="8" height="3.2" fill="#000" stroke="none" stroke-width="1"/>
<rect x="316" y="643" width="9" height="3.2" fill="#000" stroke="none" stroke-width="1"/>
<rect x="333" y="643" width="9" height="3.2" fill="#000" stroke="none" stroke-width="1"/>
<rect x="411" y="643" width="7.5" height="3.2" fill="#000" stroke="none" stroke-width="1"/>
<rect x="426" y="643" width="10" height="3.2" fill="#000" stroke="none" stroke-width="1"/>
<rect x="443.5" y="643" width="7.5" height="3.2" fill="#000" stroke="none" stroke-width="1"/>
<rect x="518" y="643" width="8" height="3.2" fill="#000" stroke="none" stroke-width="1"/>
<rect x="533" y="643" width="10" height="3.2" fill="#000" stroke="none" stroke-width="1"/>
<rect x="551" y="643" width="7" height="3.2" fill="#000" stroke="none" stroke-width="1"/>
<rect x="203.5" y="636" width="7" height="9" fill="#000" stroke="none" stroke-width="1"/>
<path d="M212.8,657 L200.5,684 V719" fill="none" stroke="#000" stroke-width="3.55"/>
<line x1="204" y1="684" x2="204" y2="719" stroke="#000" stroke-width="2.05" shape-rendering="crispEdges"/>
<line x1="297.7" y1="663" x2="297.7" y2="719" stroke="#000" stroke-width="3.15" shape-rendering="crispEdges"/>
<line x1="301.6" y1="668" x2="301.6" y2="719" stroke="#000" stroke-width="1.85" shape-rendering="crispEdges"/>
<rect x="296.7" y="666" width="2" height="2.5" fill="#fff" stroke="none" stroke-width="1"/>
<rect x="296.7" y="680" width="2" height="2.5" fill="#fff" stroke="none" stroke-width="1"/>
<rect x="296.7" y="687" width="2" height="2.5" fill="#fff" stroke="none" stroke-width="1"/>
<line x1="374" y1="663" x2="374" y2="719" stroke="#000" stroke-width="3.15" shape-rendering="crispEdges"/>
<line x1="379.5" y1="668" x2="379.5" y2="719" stroke="#000" stroke-width="1.85" shape-rendering="crispEdges"/>
<rect x="373" y="666" width="2" height="2.5" fill="#fff" stroke="none" stroke-width="1"/>
<rect x="373" y="680" width="2" height="2.5" fill="#fff" stroke="none" stroke-width="1"/>
<rect x="373" y="687" width="2" height="2.5" fill="#fff" stroke="none" stroke-width="1"/>
<line x1="521" y1="663" x2="521" y2="719" stroke="#000" stroke-width="3.15" shape-rendering="crispEdges"/>
<line x1="526" y1="668" x2="526" y2="719" stroke="#000" stroke-width="1.85" shape-rendering="crispEdges"/>
<rect x="520" y="666" width="2" height="2.5" fill="#fff" stroke="none" stroke-width="1"/>
<rect x="520" y="680" width="2" height="2.5" fill="#fff" stroke="none" stroke-width="1"/>
<rect x="520" y="687" width="2" height="2.5" fill="#fff" stroke="none" stroke-width="1"/>
<line x1="180.5" y1="684.4" x2="180.5" y2="700.6" stroke="#000" stroke-width="2.05" shape-rendering="crispEdges"/>
<line x1="188.8" y1="684.4" x2="188.8" y2="700.6" stroke="#000" stroke-width="2.05" shape-rendering="crispEdges"/>
<line x1="196.2" y1="684.4" x2="196.2" y2="700.6" stroke="#000" stroke-width="2.05" shape-rendering="crispEdges"/>
<line x1="257.1" y1="684.4" x2="257.1" y2="700.6" stroke="#000" stroke-width="2.05" shape-rendering="crispEdges"/>
<line x1="264.5" y1="684.4" x2="264.5" y2="700.6" stroke="#000" stroke-width="2.05" shape-rendering="crispEdges"/>
<line x1="271.9" y1="684.4" x2="271.9" y2="700.6" stroke="#000" stroke-width="2.05" shape-rendering="crispEdges"/>
<line x1="279.3" y1="684.4" x2="279.3" y2="700.6" stroke="#000" stroke-width="2.05" shape-rendering="crispEdges"/>
<line x1="286.7" y1="684.4" x2="286.7" y2="700.6" stroke="#000" stroke-width="2.05" shape-rendering="crispEdges"/>
<line x1="308.8" y1="684.4" x2="308.8" y2="700.6" stroke="#000" stroke-width="2.05" shape-rendering="crispEdges"/>
<line x1="316.4" y1="684.4" x2="316.4" y2="700.6" stroke="#000" stroke-width="2.05" shape-rendering="crispEdges"/>
<line x1="323.9" y1="684.4" x2="323.9" y2="700.6" stroke="#000" stroke-width="2.05" shape-rendering="crispEdges"/>
<line x1="331.5" y1="684.4" x2="331.5" y2="700.6" stroke="#000" stroke-width="2.05" shape-rendering="crispEdges"/>
<line x1="339.0" y1="684.4" x2="339.0" y2="700.6" stroke="#000" stroke-width="2.05" shape-rendering="crispEdges"/>
<line x1="346.6" y1="684.4" x2="346.6" y2="700.6" stroke="#000" stroke-width="2.05" shape-rendering="crispEdges"/>
<line x1="354.1" y1="684.4" x2="354.1" y2="700.6" stroke="#000" stroke-width="2.05" shape-rendering="crispEdges"/>
<line x1="361.7" y1="684.4" x2="361.7" y2="700.6" stroke="#000" stroke-width="2.05" shape-rendering="crispEdges"/>
<line x1="369.2" y1="684.4" x2="369.2" y2="700.6" stroke="#000" stroke-width="2.05" shape-rendering="crispEdges"/>
<line x1="384.3" y1="684.4" x2="384.3" y2="700.6" stroke="#000" stroke-width="2.05" shape-rendering="crispEdges"/>
<line x1="391.9" y1="684.4" x2="391.9" y2="700.6" stroke="#000" stroke-width="2.05" shape-rendering="crispEdges"/>
<line x1="399.4" y1="684.4" x2="399.4" y2="700.6" stroke="#000" stroke-width="2.05" shape-rendering="crispEdges"/>
<line x1="407.0" y1="684.4" x2="407.0" y2="700.6" stroke="#000" stroke-width="2.05" shape-rendering="crispEdges"/>
<line x1="414.5" y1="684.4" x2="414.5" y2="700.6" stroke="#000" stroke-width="2.05" shape-rendering="crispEdges"/>
<line x1="422.1" y1="684.4" x2="422.1" y2="700.6" stroke="#000" stroke-width="2.05" shape-rendering="crispEdges"/>
<line x1="429.6" y1="684.4" x2="429.6" y2="700.6" stroke="#000" stroke-width="2.05" shape-rendering="crispEdges"/>
<line x1="437.2" y1="684.4" x2="437.2" y2="700.6" stroke="#000" stroke-width="2.05" shape-rendering="crispEdges"/>
<line x1="444.7" y1="684.4" x2="444.7" y2="700.6" stroke="#000" stroke-width="2.05" shape-rendering="crispEdges"/>
<line x1="452.3" y1="684.4" x2="452.3" y2="700.6" stroke="#000" stroke-width="2.05" shape-rendering="crispEdges"/>
<line x1="459.8" y1="684.4" x2="459.8" y2="700.6" stroke="#000" stroke-width="2.05" shape-rendering="crispEdges"/>
<line x1="467.4" y1="684.4" x2="467.4" y2="700.6" stroke="#000" stroke-width="2.05" shape-rendering="crispEdges"/>
<line x1="474.9" y1="684.4" x2="474.9" y2="700.6" stroke="#000" stroke-width="2.05" shape-rendering="crispEdges"/>
<line x1="482.5" y1="684.4" x2="482.5" y2="700.6" stroke="#000" stroke-width="2.05" shape-rendering="crispEdges"/>
<line x1="490.0" y1="684.4" x2="490.0" y2="700.6" stroke="#000" stroke-width="2.05" shape-rendering="crispEdges"/>
<line x1="497.6" y1="684.4" x2="497.6" y2="700.6" stroke="#000" stroke-width="2.05" shape-rendering="crispEdges"/>
<line x1="505.1" y1="684.4" x2="505.1" y2="700.6" stroke="#000" stroke-width="2.05" shape-rendering="crispEdges"/>
<line x1="512.7" y1="684.4" x2="512.7" y2="700.6" stroke="#000" stroke-width="2.05" shape-rendering="crispEdges"/>
<line x1="520.2" y1="684.4" x2="520.2" y2="700.6" stroke="#000" stroke-width="2.05" shape-rendering="crispEdges"/>
<path d="M163,701 H526" fill="none" stroke="#000" stroke-width="2.25"/>
<path d="M224.3,719 V698 Q225,686 238,685.3 H249.3 V700.6" fill="none" stroke="#000" stroke-width="2.95"/>
<rect x="288.5" y="689.5" width="7.5" height="9.5" fill="#000" stroke="none" stroke-width="1"/>
<rect x="290.8" y="692.5" width="3" height="3.5" fill="#fff" stroke="none" stroke-width="1"/>
<rect x="172" y="687.7" width="8.5" height="11" fill="#000" stroke="none" stroke-width="1"/>
<rect x="175" y="691" width="3" height="4" fill="#fff" stroke="none" stroke-width="1"/>
<line x1="173" y1="666.5" x2="173" y2="700" stroke="#000" stroke-width="2.55" shape-rendering="crispEdges"/>
<rect x="452.5" y="684" width="3.5" height="17" fill="#000" stroke="none" stroke-width="1"/>
<path d="M530,685 H587 M594,650.8 V662 L602,667" fill="none" stroke="#000" stroke-width="1.85"/>
<line x1="530" y1="700" x2="574" y2="687" stroke="#000" stroke-width="1.75" stroke-dasharray="9 3"/>
<line x1="154" y1="720" x2="292" y2="720" stroke="#000" stroke-width="3.75" shape-rendering="crispEdges"/>
<line x1="372" y1="720" x2="530" y2="720" stroke="#000" stroke-width="3.75" shape-rendering="crispEdges"/>
<line x1="155.5" y1="725.6" x2="292" y2="725.6" stroke="#000" stroke-width="2.05" shape-rendering="crispEdges"/>
<line x1="371" y1="725.6" x2="534" y2="725.6" stroke="#000" stroke-width="2.05" shape-rendering="crispEdges"/>
<line x1="143" y1="737.2" x2="532" y2="737.2" stroke="#000" stroke-width="2.05" shape-rendering="crispEdges"/>
<path d="M184,737 Q201,735 203.5,726" fill="none" stroke="#000" stroke-width="1.65" stroke-dasharray="5 2"/>
<path d="M226.6,726 Q229,735 240,737" fill="none" stroke="#000" stroke-width="1.65" stroke-dasharray="5 2"/>
<path d="M109,680 Q110,700 118,713 Q130,733 154,737.5" fill="none" stroke="#000" stroke-width="2.75"/>
<path d="M113,684 Q116,706 128,719 Q138,727 155,725.6" fill="none" stroke="#000" stroke-width="1.65"/>
<line x1="127.8" y1="738" x2="125.5" y2="773.5" stroke="#000" stroke-width="1.75" stroke-dasharray="8 3"/>
<rect x="152.5" y="736.5" width="5" height="3" fill="#000" stroke="none" stroke-width="1"/>
<rect x="294.5" y="736.5" width="5" height="3" fill="#000" stroke="none" stroke-width="1"/>
<rect x="141.3" y="770.5" width="5" height="3" fill="#000" stroke="none" stroke-width="1"/>
<rect x="294.5" y="770.5" width="5" height="3" fill="#000" stroke="none" stroke-width="1"/>
<rect x="434.5" y="736.5" width="5" height="3" fill="#000" stroke="none" stroke-width="1"/>
<rect x="434.5" y="770.5" width="5" height="3" fill="#000" stroke="none" stroke-width="1"/>
<rect x="256.5" y="731.5" width="5" height="3" fill="#000" stroke="none" stroke-width="1"/>
<rect x="517.5" y="731.5" width="5" height="3" fill="#000" stroke="none" stroke-width="1"/>
<path d="M99,837 V815 Q100,800 108,788 Q118,775 134,773.7 H680" fill="none" stroke="#000" stroke-width="3.55"/>
<line x1="112" y1="784.8" x2="668" y2="784.8" stroke="#000" stroke-width="2.05" shape-rendering="crispEdges"/>
<line x1="151" y1="790.5" x2="672" y2="790.5" stroke="#000" stroke-width="2.75" stroke-dasharray="8 2.2" shape-rendering="crispEdges"/>
<path d="M151,791 Q128,798 120.5,816" fill="none" stroke="#000" stroke-width="1.65" stroke-dasharray="6 2.5"/>
<line x1="120.5" y1="785" x2="120.5" y2="888" stroke="#000" stroke-width="2.55" shape-rendering="crispEdges"/>
<line x1="115.4" y1="785" x2="115.4" y2="837.7" stroke="#000" stroke-width="1.65" shape-rendering="crispEdges"/>
<path d="M119,883 L120.5,889 L122,883 Z" fill="#000" stroke="#000" stroke-width="1.55"/>
<path d="M195.6,775.5 Q200.5,778 201.7,785 M230,775.5 Q224.5,778 223,785" fill="none" stroke="#000" stroke-width="1.75"/>
<line x1="223" y1="775" x2="223" y2="889.5" stroke="#000" stroke-width="2.05" shape-rendering="crispEdges"/>
<path d="M138.7,889.5 V824.5 H153 L156,821.4 V809.2 H197.7 V821 Q198,824 200.2,824 Q202.7,824 202.7,821 V785" fill="none" stroke="#000" stroke-width="2.15"/>
<line x1="197.7" y1="809.2" x2="197.7" y2="823" stroke="#000" stroke-width="2.75" shape-rendering="crispEdges"/>
<rect x="173.5" y="842.8" width="30.5" height="7" rx="2.5" fill="none" stroke="#000" stroke-width="1.5"/>
<rect x="135" y="778.7" width="4.8" height="4.6" fill="none" stroke="#000" stroke-width="1.2"/>
<rect x="127.6" y="799" width="4.2" height="4.5" fill="#000" stroke="none" stroke-width="1"/>
<rect x="120.5" y="812" width="3.2" height="8" fill="#000" stroke="none" stroke-width="1"/>
<path d="M159,762.5 H165 M162,759.5 V765.5" fill="none" stroke="#000" stroke-width="2.15"/>
<path d="M106.3,817 H112.3 M109.3,814 V820" fill="none" stroke="#000" stroke-width="2.15"/>
<path d="M320,763 H326 M323,760 V766" fill="none" stroke="#000" stroke-width="2.15"/>
<rect x="341.5" y="754" width="4" height="4" fill="#000" stroke="none" stroke-width="1"/>
<rect x="332.5" y="761.5" width="4" height="4" fill="none" stroke="#000" stroke-width="1.3"/>
<rect x="415" y="786" width="5" height="3" fill="#000" stroke="none" stroke-width="1"/>
<rect x="406" y="771" width="4" height="3" fill="#000" stroke="none" stroke-width="1"/>
<path d="M565.0,712.0 L565.6,711.6 L566.1,711.2 L566.6,710.8 L567.1,710.5 L567.5,710.2 L568.0,709.8 L568.5,709.4 L569.1,709.0 L569.9,708.5 L570.7,707.9 L571.8,707.3 L573.0,706.5 L574.4,705.6 L576.1,704.6 L577.9,703.5 L579.9,702.3 L581.9,701.0 L584.1,699.7 L586.3,698.4 L588.5,697.1 L590.7,695.7 L592.9,694.4 L595.0,693.2 L597.0,692.0 L598.9,690.9 L600.8,689.7 L602.7,688.6 L604.6,687.5 L606.5,686.4 L608.3,685.3 L610.2,684.2 L612.1,683.1 L613.9,682.0 L615.8,680.9 L617.8,679.9 L619.7,678.8 L621.7,677.7 L623.7,676.6 L625.8,675.5 L627.8,674.4 L629.9,673.2 L632.0,672.1 L634.1,671.1 L636.2,670.0 L638.2,669.0 L640.2,668.1 L642.1,667.3 L644.0,666.5 L645.8,665.8 L647.7,665.2 L649.5,664.6 L651.2,664.1 L653.0,663.7 L654.7,663.2 L656.4,662.9 L658.0,662.5 L659.6,662.2 L661.1,662.0 L662.6,661.7 L664.0,661.5 L665.3,661.3 L666.6,661.1 L667.7,661.0 L668.8,660.9 L669.9,660.8 L670.9,660.8 L671.9,660.8 L672.9,660.8 L673.9,660.9 L674.9,661.0 L675.9,661.1 L677.0,661.2 L678.1,661.3 L679.1,661.5 L680.2,661.7 L681.2,661.9 L682.2,662.1 L683.2,662.4 L684.3,662.7 L685.4,663.0 L686.6,663.4 L687.8,663.8 L689.1,664.3 L690.5,664.8 L692.0,665.4 L693.7,666.0 L695.4,666.6 L697.2,667.3 L699.1,668.0 L701.0,668.8 L702.9,669.6 L704.8,670.5 L706.6,671.4 L708.4,672.4 L710.2,673.4 L711.8,674.5 L713.4,675.7 L715.0,676.9 L716.5,678.2 L718.0,679.6 L719.5,681.1 L721.0,682.6 L722.4,684.1 L723.8,685.6 L725.1,687.1 L726.3,688.7 L727.4,690.2 L728.5,691.7 L729.5,693.2 L730.4,694.7 L731.2,696.3 L732.0,697.9 L732.7,699.5 L733.3,701.1 L733.9,702.6 L734.4,704.2 L734.9,705.7 L735.4,707.2 L735.9,708.6 L736.3,710.0 L736.7,711.3 L737.1,712.6 L737.4,713.8 L737.6,715.1 L737.9,716.2 L738.1,717.4 L738.2,718.5 L738.4,719.6 L738.5,720.7 L738.6,721.8 L738.6,722.9 L738.7,724.0 L738.7,725.1 L738.7,726.1 L738.7,727.1 L738.7,728.1 L738.6,729.0 L738.5,730.0 L738.3,731.0 L738.2,731.9 L738.0,732.9 L737.9,733.9 L737.7,734.9 L737.5,736.0 L737.3,737.1 L737.1,738.3 L736.9,739.5 L736.6,740.7 L736.4,741.9 L736.1,743.2 L735.8,744.4 L735.5,745.6 L735.2,746.8 L734.8,747.9 L734.4,749.0 L734.0,750.0 L733.5,750.9 L733.0,751.8 L732.5,752.6 L731.9,753.4 L731.4,754.2 L730.8,754.9 L730.1,755.6 L729.5,756.3 L728.9,757.0 L728.2,757.7 L727.6,758.3 L727.0,759.0 L726.4,759.7 L725.8,760.3 L725.2,760.9 L724.7,761.5 L724.1,762.0 L723.5,762.6 L722.9,763.2 L722.2,763.8 L721.6,764.3 L720.9,765.0 L720.2,765.6 L719.4,766.3 L718.6,767.0 L717.7,767.8 L716.8,768.6 L715.9,769.4 L714.9,770.3 L713.9,771.1 L712.9,772.0 L711.9,772.8 L710.9,773.7 L709.9,774.5 L708.9,775.3 L708.0,776.0 L707.1,776.7 L706.1,777.4 L705.2,778.1 L704.2,778.8 L703.3,779.4 L702.3,780.1 L701.4,780.7 L700.5,781.3 L699.6,781.9 L698.7,782.4 L697.8,783.0 L697.0,783.5 L696.2,784.0 L695.5,784.4 L694.8,784.9 L694.1,785.3 L693.5,785.7 L692.8,786.1 L692.2,786.4 L691.5,786.7 L690.8,787.1 L690.1,787.4 L689.3,787.7 L688.4,788.0 L687.5,788.3 L686.4,788.6 L685.4,788.8 L684.3,789.0 L683.2,789.3 L682.0,789.5 L680.8,789.7 L679.6,789.9 L678.5,790.1 L677.3,790.3 L676.1,790.5 L675.0,790.7" fill="none" stroke="#000" stroke-width="3.15"/>
<path d="M578.5,708.5 L580.3,707.4 L582.3,706.2 L584.3,705.0 L586.5,703.7 L588.7,702.3 L590.9,701.0 L593.1,699.7 L595.2,698.4 L597.3,697.1 L599.3,696.0 L601.3,694.8 L603.2,693.7 L605.1,692.5 L607.0,691.4 L608.8,690.3 L610.7,689.2 L612.5,688.1 L614.4,687.1 L616.2,686.0 L618.1,684.9 L620.0,683.9 L621.9,682.8 L623.9,681.8 L625.9,680.7 L628.0,679.5 L630.0,678.4 L632.1,677.3 L634.1,676.2 L636.2,675.2 L638.2,674.2 L640.2,673.2 L642.1,672.3 L643.9,671.5 L645.7,670.8 L647.4,670.1 L649.1,669.6 L650.8,669.0 L652.5,668.6 L654.1,668.1 L655.7,667.7 L657.3,667.4 L658.9,667.1 L660.4,666.8 L661.9,666.5 L663.3,666.3 L664.7,666.0 L666.0,665.9 L667.1,665.7 L668.2,665.6 L669.2,665.5 L670.1,665.4 L671.0,665.4 L671.8,665.4 L672.7,665.4 L673.6,665.5 L674.5,665.6 L675.4,665.6 L676.4,665.8 L677.4,665.9 L678.4,666.0 L679.3,666.2 L680.2,666.4 L681.1,666.6 L682.1,666.8 L683.0,667.1 L684.0,667.4 L685.1,667.7 L686.3,668.1 L687.5,668.6 L688.9,669.1 L690.4,669.7 L692.1,670.3 L693.8,670.9 L695.5,671.6 L697.4,672.3 L699.2,673.0 L701.0,673.8 L702.8,674.6 L704.5,675.5 L706.2,676.4 L707.7,677.3 L709.2,678.3 L710.6,679.3 L712.0,680.5 L713.5,681.7 L714.9,683.0 L716.3,684.3 L717.7,685.7 L719.0,687.2 L720.3,688.6 L721.5,690.1 L722.7,691.5 L723.7,692.9 L724.7,694.3 L725.6,695.6 L726.4,697.0 L727.1,698.4 L727.8,699.8 L728.4,701.2 L729.0,702.7 L729.6,704.2 L730.1,705.7 L730.6,707.1 L731.0,708.6 L731.5,710.0 L731.9,711.4 L732.3,712.6 L732.6,713.8 L732.9,714.9 L733.1,716.0 L733.3,717.1 L733.5,718.1 L733.7,719.1 L733.8,720.2 L733.9,721.2 L734.0,722.2 L734.1,723.2 L734.1,724.2 L734.1,725.1 L734.1,726.0 L734.1,726.9 L734.1,727.8 L734.0,728.6 L733.9,729.5 L733.8,730.3 L733.7,731.2 L733.5,732.2 L733.3,733.1 L733.2,734.1 L733.0,735.2 L732.8,736.3 L732.6,737.4 L732.3,738.6 L732.1,739.8 L731.9,741.0 L731.6,742.2 L731.4,743.3 L731.1,744.4 L730.8,745.5 L730.5,746.4 L730.1,747.3 L729.8,748.1 L729.5,748.8 L729.1,749.4 L728.7,750.1 L728.3,750.7 L727.8,751.3 L727.3,751.9 L726.7,752.6 L726.1,753.2 L725.5,753.8 L724.9,754.5 L724.2,755.2 L723.6,755.9 L723.0,756.5 L722.5,757.1 L721.9,757.7 L721.4,758.2 L720.9,758.7 L720.3,759.3 L719.7,759.8 L719.1,760.4 L718.5,760.9 L717.8,761.5 L717.1,762.2 L716.3,762.9 L715.5,763.6 L714.7,764.4 L713.8,765.2 L712.8,766.0 L711.9,766.8 L710.9,767.7 L709.9,768.5 L709.0,769.3 L708.0,770.1 L707.0,770.9 L706.1,771.7 L705.2,772.4 L704.3,773.0 L703.4,773.7 L702.5,774.4 L701.6,775.0 L700.7,775.6 L699.7,776.3 L698.8,776.9 L698.0,777.5 L697.1,778.0 L696.2,778.6 L695.4,779.1 L694.6,779.6 L693.8,780.1 L693.0,780.5 L692.4,781.0 L691.7,781.4 L691.1,781.7 L690.6,782.0 L690.1,782.3 L689.5,782.6 L689.0,782.9 L688.4,783.1 L687.7,783.4 L687.0,783.6 L686.2,783.9 L685.3,784.1 L684.4,784.3 L683.4,784.5 L682.3,784.7 L681.2,784.9" fill="none" stroke="#000" stroke-width="1.65"/>
<path d="M632.0,682.1 L634.1,681.0 L636.1,679.9 L638.1,678.9 L640.1,677.9 L642.0,677.0 L643.8,676.1 L645.6,675.4 L647.2,674.7 L648.8,674.1 L650.4,673.6 L652.0,673.1 L653.6,672.6 L655.1,672.2 L656.7,671.8 L658.2,671.5 L659.7,671.2 L661.2,670.9 L662.6,670.6 L664.0,670.4 L665.4,670.2 L666.6,670.0 L667.6,669.9 L668.6,669.8 L669.5,669.7 L670.3,669.6 L671.1,669.6 L671.8,669.6 L672.5,669.6 L673.3,669.7 L674.1,669.7 L675.0,669.8 L675.9,669.9 L676.8,670.1 L677.7,670.2 L678.5,670.3 L679.3,670.5 L680.2,670.7 L681.0,670.9 L681.9,671.1 L682.8,671.4 L683.8,671.7 L684.9,672.1 L686.1,672.5 L687.4,673.0 L688.9,673.6 L690.6,674.2 L692.3,674.9 L694.0,675.5 L695.8,676.2 L697.6,676.9 L699.3,677.7 L701.0,678.4 L702.6,679.2 L704.1,680.0 L705.5,680.9 L706.7,681.7 L708.0,682.6 L709.4,683.7 L710.7,684.9 L712.0,686.1 L713.3,687.3 L714.6,688.7 L715.9,690.0 L717.1,691.4 L718.3,692.7 L719.3,694.1 L720.3,695.4 L721.2,696.7 L722.0,697.8 L722.7,699.0 L723.3,700.3 L724.0,701.5 L724.5,702.9 L725.1,704.2 L725.6,705.6 L726.1,707.0 L726.6,708.4 L727.0,709.9 L727.5,711.3 L727.9,712.6 L728.2,713.8 L728.5,714.8 L728.8,715.9 L729.0,716.9 L729.2,717.8 L729.4,718.8 L729.5,719.7 L729.6,720.6 L729.7,721.6 L729.8,722.5 L729.9,723.4 L729.9,724.4 L729.9,725.2 L729.9,726.0 L729.9,726.7 L729.9,727.5 L729.8,728.2 L729.7,729.0 L729.6,729.8 L729.5,730.6 L729.4,731.5 L729.2,732.4 L729.0,733.4 L728.8,734.4 L728.6,735.6 L728.4,736.7 L728.2,737.8 L728.0,739.0 L727.8,740.1 L727.5,741.2 L727.3,742.3 L727.0,743.3 L726.8,744.3 L726.5,745.1 L726.2,745.8 L726.0,746.3 L725.8,746.8 L725.5,747.3 L725.2,747.7 L724.9,748.2 L724.5,748.7 L724.1,749.2 L723.6,749.7 L723.1,750.3 L722.5,751.0 L721.8,751.6 L721.2,752.4 L720.5,753.1 L719.9,753.7 L719.4,754.2 L718.9,754.7 L718.5,755.2 L718.0,755.7 L717.4,756.2 L716.9,756.7 L716.3,757.2 L715.7,757.8 L715.0,758.4 L714.3,759.1 L713.5,759.7 L712.7,760.5 L711.9,761.2 L711.0,762.0 L710.1,762.8 L709.1,763.6 L708.2,764.5 L707.2,765.3 L706.3,766.1 L705.3,766.9 L704.4,767.6 L703.5,768.4 L702.6,769.0 L701.8,769.7 L700.9,770.3 L700.0,770.9 L699.2,771.6 L698.3,772.2 L697.4,772.8 L696.5,773.4 L695.7,773.9 L694.8,774.5 L694.0,775.0 L693.2,775.5 L692.4,776.0 L691.6,776.5 L690.8,777.0 L690.1,777.4 L689.5,777.8 L689.0,778.1 L688.5,778.4 L688.1,778.6 L687.7,778.8" fill="none" stroke="#000" stroke-width="1.65" stroke-dasharray="14 3"/>
<path d="M577.6,724.0 L579.8,722.7 L582.0,721.4 L584.2,720.1 L586.4,718.8 L588.6,717.5 L590.8,716.2 L593.0,715.0 L595.2,713.7 L597.4,712.4 L599.6,711.1 L601.8,709.8 L604.0,708.5 L606.2,707.2 L608.5,705.9 L610.8,704.5 L613.1,703.2 L615.4,701.8 L617.7,700.4 L619.9,699.1 L622.2,697.8 L624.4,696.5 L626.6,695.3 L628.7,694.1 L630.8,693.0 L632.8,691.9 L634.9,690.8 L636.9,689.8 L639.0,688.8 L640.9,687.8 L642.9,686.8 L644.8,685.9 L646.6,685.0 L648.3,684.3 L650.0,683.5 L651.6,682.9 L653.0,682.3 L654.3,681.8 L655.4,681.4 L656.4,681.1 L657.3,680.9 L658.1,680.7 L658.8,680.6 L659.5,680.5 L660.3,680.5 L661.1,680.4 L661.9,680.4 L662.9,680.4 L664.0,680.3 L665.2,680.2 L666.6,680.1 L668.0,680.1 L669.4,680.0 L670.9,680.0 L672.5,679.9 L674.0,679.9 L675.6,680.0 L677.1,680.0 L678.6,680.1 L680.0,680.3 L681.3,680.5 L682.6,680.8 L683.8,681.1 L685.0,681.5 L686.2,681.9 L687.4,682.3 L688.5,682.8 L689.6,683.3 L690.7,683.8 L691.8,684.4 L692.9,684.9 L694.0,685.5 L695.0,686.0 L696.0,686.6 L697.0,687.1 L698.0,687.7 L698.9,688.4 L699.9,689.0 L700.8,689.6 L701.7,690.3 L702.6,690.9 L703.5,691.6 L704.4,692.2 L705.4,692.9 L706.3,693.5" fill="none" stroke="#000" stroke-width="2.85"/>
<path d="M717,735 Q716,747 706,759.7 Q696,768 679.6,773.3 Q674,780 674,790" fill="none" stroke="#000" stroke-width="2.75"/>
<rect x="664" y="660" width="16.7" height="4" fill="#fff" stroke="#000" stroke-width="1.2"/>
<line x1="674" y1="790" x2="674" y2="848" stroke="#000" stroke-width="2.05" shape-rendering="crispEdges"/>
<path d="M635,775 Q645,780 646.3,793 Q646,806 631,809.5 H557.7 V818" fill="none" stroke="#000" stroke-width="2.05"/>
<rect x="555.5" y="815" width="4" height="4" fill="none" stroke="#000" stroke-width="1.2"/>
<g transform="rotate(-18 555 730)">
<line x1="537" y1="716" x2="541.4" y2="716" stroke="#000" stroke-width="2.55" shape-rendering="auto"/>
<line x1="542.3" y1="716" x2="550.2" y2="716" stroke="#000" stroke-width="2.55" shape-rendering="auto"/>
<line x1="551.4" y1="716" x2="559.1" y2="716" stroke="#000" stroke-width="2.55" shape-rendering="auto"/>
<line x1="560.3" y1="716" x2="565.6" y2="716" stroke="#000" stroke-width="2.55" shape-rendering="auto"/>
<line x1="566.4" y1="716" x2="571.6" y2="716" stroke="#000" stroke-width="2.55" shape-rendering="auto"/>
<line x1="572.7" y1="716" x2="575" y2="716" stroke="#000" stroke-width="2.55" shape-rendering="auto"/>
<line x1="544.5" y1="718.8" x2="548.1" y2="718.8" stroke="#000" stroke-width="2.55" shape-rendering="auto"/>
<line x1="549.2" y1="718.8" x2="555.2" y2="718.8" stroke="#000" stroke-width="2.55" shape-rendering="auto"/>
<line x1="563.6" y1="718.8" x2="569.3" y2="718.8" stroke="#000" stroke-width="2.55" shape-rendering="auto"/>
<line x1="570.1" y1="718.8" x2="575" y2="718.8" stroke="#000" stroke-width="2.55" shape-rendering="auto"/>
<line x1="537" y1="721.6" x2="540.3" y2="721.6" stroke="#000" stroke-width="2.55" shape-rendering="auto"/>
<line x1="541.3" y1="721.6" x2="544.9" y2="721.6" stroke="#000" stroke-width="2.55" shape-rendering="auto"/>
<line x1="546.4" y1="721.6" x2="549.7" y2="721.6" stroke="#000" stroke-width="2.55" shape-rendering="auto"/>
<line x1="551.3" y1="721.6" x2="557.6" y2="721.6" stroke="#000" stroke-width="2.55" shape-rendering="auto"/>
<line x1="558.8" y1="721.6" x2="563.4" y2="721.6" stroke="#000" stroke-width="2.55" shape-rendering="auto"/>
<line x1="564.2" y1="721.6" x2="569.8" y2="721.6" stroke="#000" stroke-width="2.55" shape-rendering="auto"/>
<line x1="571.2" y1="721.6" x2="575" y2="721.6" stroke="#000" stroke-width="2.55" shape-rendering="auto"/>
<line x1="537" y1="724.4" x2="541.0" y2="724.4" stroke="#000" stroke-width="2.55" shape-rendering="auto"/>
<line x1="550.8" y1="724.4" x2="555.7" y2="724.4" stroke="#000" stroke-width="2.55" shape-rendering="auto"/>
<line x1="556.4" y1="724.4" x2="561.6" y2="724.4" stroke="#000" stroke-width="2.55" shape-rendering="auto"/>
<line x1="567.2" y1="724.4" x2="570.8" y2="724.4" stroke="#000" stroke-width="2.55" shape-rendering="auto"/>
<line x1="537" y1="727.2" x2="543.1" y2="727.2" stroke="#000" stroke-width="2.55" shape-rendering="auto"/>
<line x1="550.6" y1="727.2" x2="557.8" y2="727.2" stroke="#000" stroke-width="2.55" shape-rendering="auto"/>
<line x1="567.3" y1="727.2" x2="572.6" y2="727.2" stroke="#000" stroke-width="2.55" shape-rendering="auto"/>
<line x1="573.9" y1="727.2" x2="575" y2="727.2" stroke="#000" stroke-width="2.55" shape-rendering="auto"/>
<line x1="537" y1="730.0" x2="541.4" y2="730.0" stroke="#000" stroke-width="2.55" shape-rendering="auto"/>
<line x1="542.6" y1="730.0" x2="548.4" y2="730.0" stroke="#000" stroke-width="2.55" shape-rendering="auto"/>
<line x1="548.9" y1="730.0" x2="555.7" y2="730.0" stroke="#000" stroke-width="2.55" shape-rendering="auto"/>
<line x1="556.8" y1="730.0" x2="561.4" y2="730.0" stroke="#000" stroke-width="2.55" shape-rendering="auto"/>
<line x1="562.0" y1="730.0" x2="566.8" y2="730.0" stroke="#000" stroke-width="2.55" shape-rendering="auto"/>
<line x1="567.6" y1="730.0" x2="574.5" y2="730.0" stroke="#000" stroke-width="2.55" shape-rendering="auto"/>
<line x1="537" y1="732.8" x2="540.7" y2="732.8" stroke="#000" stroke-width="2.55" shape-rendering="auto"/>
<line x1="541.7" y1="732.8" x2="548.6" y2="732.8" stroke="#000" stroke-width="2.55" shape-rendering="auto"/>
<line x1="550.1" y1="732.8" x2="553.3" y2="732.8" stroke="#000" stroke-width="2.55" shape-rendering="auto"/>
<line x1="553.8" y1="732.8" x2="560.1" y2="732.8" stroke="#000" stroke-width="2.55" shape-rendering="auto"/>
<line x1="570.1" y1="732.8" x2="575" y2="732.8" stroke="#000" stroke-width="2.55" shape-rendering="auto"/>
<line x1="551.0" y1="735.6" x2="555.0" y2="735.6" stroke="#000" stroke-width="2.55" shape-rendering="auto"/>
<line x1="556.3" y1="735.6" x2="563.1" y2="735.6" stroke="#000" stroke-width="2.55" shape-rendering="auto"/>
<line x1="564.0" y1="735.6" x2="570.6" y2="735.6" stroke="#000" stroke-width="2.55" shape-rendering="auto"/>
<line x1="571.6" y1="735.6" x2="575.0" y2="735.6" stroke="#000" stroke-width="2.55" shape-rendering="auto"/>
<line x1="537" y1="738.4" x2="544.2" y2="738.4" stroke="#000" stroke-width="2.55" shape-rendering="auto"/>
<line x1="549.1" y1="738.4" x2="552.1" y2="738.4" stroke="#000" stroke-width="2.55" shape-rendering="auto"/>
<line x1="553.0" y1="738.4" x2="558.5" y2="738.4" stroke="#000" stroke-width="2.55" shape-rendering="auto"/>
<line x1="559.0" y1="738.4" x2="565.3" y2="738.4" stroke="#000" stroke-width="2.55" shape-rendering="auto"/>
<line x1="566.8" y1="738.4" x2="573.2" y2="738.4" stroke="#000" stroke-width="2.55" shape-rendering="auto"/>
<line x1="544.6" y1="741.2" x2="547.6" y2="741.2" stroke="#000" stroke-width="2.55" shape-rendering="auto"/>
<line x1="548.3" y1="741.2" x2="553.7" y2="741.2" stroke="#000" stroke-width="2.55" shape-rendering="auto"/>
<line x1="563.6" y1="741.2" x2="568.1" y2="741.2" stroke="#000" stroke-width="2.55" shape-rendering="auto"/>
<line x1="569.0" y1="741.2" x2="574.1" y2="741.2" stroke="#000" stroke-width="2.55" shape-rendering="auto"/>
<line x1="537" y1="744.0" x2="541.3" y2="744.0" stroke="#000" stroke-width="2.55" shape-rendering="auto"/>
<line x1="542.1" y1="744.0" x2="545.8" y2="744.0" stroke="#000" stroke-width="2.55" shape-rendering="auto"/>
<line x1="559.2" y1="744.0" x2="564.3" y2="744.0" stroke="#000" stroke-width="2.55" shape-rendering="auto"/>
<line x1="564.8" y1="744.0" x2="571.7" y2="744.0" stroke="#000" stroke-width="2.55" shape-rendering="auto"/>
<line x1="572.9" y1="744.0" x2="575" y2="744.0" stroke="#000" stroke-width="2.55" shape-rendering="auto"/>
</g>
<g transform="rotate(-30 604 696)">
<line x1="591" y1="690" x2="594.1" y2="690" stroke="#000" stroke-width="2.35" shape-rendering="auto"/>
<line x1="594.7" y1="690" x2="600.1" y2="690" stroke="#000" stroke-width="2.35" shape-rendering="auto"/>
<line x1="607.3" y1="690" x2="614.9" y2="690" stroke="#000" stroke-width="2.35" shape-rendering="auto"/>
<line x1="615.4" y1="690" x2="619" y2="690" stroke="#000" stroke-width="2.35" shape-rendering="auto"/>
<line x1="591" y1="692.8" x2="597.6" y2="692.8" stroke="#000" stroke-width="2.35" shape-rendering="auto"/>
<line x1="598.7" y1="692.8" x2="605.3" y2="692.8" stroke="#000" stroke-width="2.35" shape-rendering="auto"/>
<line x1="606.4" y1="692.8" x2="613.2" y2="692.8" stroke="#000" stroke-width="2.35" shape-rendering="auto"/>
<line x1="614.2" y1="692.8" x2="619" y2="692.8" stroke="#000" stroke-width="2.35" shape-rendering="auto"/>
<line x1="591" y1="695.6" x2="594.4" y2="695.6" stroke="#000" stroke-width="2.35" shape-rendering="auto"/>
<line x1="595.5" y1="695.6" x2="598.8" y2="695.6" stroke="#000" stroke-width="2.35" shape-rendering="auto"/>
<line x1="605.8" y1="695.6" x2="613.5" y2="695.6" stroke="#000" stroke-width="2.35" shape-rendering="auto"/>
<line x1="614.1" y1="695.6" x2="619" y2="695.6" stroke="#000" stroke-width="2.35" shape-rendering="auto"/>
<line x1="591" y1="698.4" x2="594.8" y2="698.4" stroke="#000" stroke-width="2.35" shape-rendering="auto"/>
<line x1="602.4" y1="698.4" x2="607.5" y2="698.4" stroke="#000" stroke-width="2.35" shape-rendering="auto"/>
<line x1="616.4" y1="698.4" x2="619" y2="698.4" stroke="#000" stroke-width="2.35" shape-rendering="auto"/>
<line x1="591" y1="701.2" x2="596.3" y2="701.2" stroke="#000" stroke-width="2.35" shape-rendering="auto"/>
<line x1="597.9" y1="701.2" x2="603.2" y2="701.2" stroke="#000" stroke-width="2.35" shape-rendering="auto"/>
<line x1="604.0" y1="701.2" x2="609.5" y2="701.2" stroke="#000" stroke-width="2.35" shape-rendering="auto"/>
<line x1="610.4" y1="701.2" x2="616.1" y2="701.2" stroke="#000" stroke-width="2.35" shape-rendering="auto"/>
<line x1="617.4" y1="701.2" x2="619" y2="701.2" stroke="#000" stroke-width="2.35" shape-rendering="auto"/>
</g>
<g transform="rotate(-20 715 713)">
<line x1="710.9" y1="698" x2="715.9" y2="698" stroke="#000" stroke-width="2.65" shape-rendering="auto"/>
<line x1="716.5" y1="698" x2="724.5" y2="698" stroke="#000" stroke-width="2.65" shape-rendering="auto"/>
<line x1="725.0" y1="698" x2="730.0" y2="698" stroke="#000" stroke-width="2.65" shape-rendering="auto"/>
<line x1="730.5" y1="698" x2="734" y2="698" stroke="#000" stroke-width="2.65" shape-rendering="auto"/>
<line x1="703.1" y1="700.8" x2="707.9" y2="700.8" stroke="#000" stroke-width="2.65" shape-rendering="auto"/>
<line x1="715.9" y1="700.8" x2="722.0" y2="700.8" stroke="#000" stroke-width="2.65" shape-rendering="auto"/>
<line x1="723.0" y1="700.8" x2="728.2" y2="700.8" stroke="#000" stroke-width="2.65" shape-rendering="auto"/>
<line x1="729.5" y1="700.8" x2="733.1" y2="700.8" stroke="#000" stroke-width="2.65" shape-rendering="auto"/>
<line x1="733.7" y1="700.8" x2="734" y2="700.8" stroke="#000" stroke-width="2.65" shape-rendering="auto"/>
<line x1="697" y1="703.6" x2="703.9" y2="703.6" stroke="#000" stroke-width="2.65" shape-rendering="auto"/>
<line x1="704.9" y1="703.6" x2="708.3" y2="703.6" stroke="#000" stroke-width="2.65" shape-rendering="auto"/>
<line x1="717.2" y1="703.6" x2="722.4" y2="703.6" stroke="#000" stroke-width="2.65" shape-rendering="auto"/>
<line x1="723.7" y1="703.6" x2="727.4" y2="703.6" stroke="#000" stroke-width="2.65" shape-rendering="auto"/>
<line x1="728.3" y1="703.6" x2="734" y2="703.6" stroke="#000" stroke-width="2.65" shape-rendering="auto"/>
<line x1="697" y1="706.4" x2="702.0" y2="706.4" stroke="#000" stroke-width="2.65" shape-rendering="auto"/>
<line x1="703.2" y1="706.4" x2="711.2" y2="706.4" stroke="#000" stroke-width="2.65" shape-rendering="auto"/>
<line x1="712.6" y1="706.4" x2="717.1" y2="706.4" stroke="#000" stroke-width="2.65" shape-rendering="auto"/>
<line x1="718.1" y1="706.4" x2="721.9" y2="706.4" stroke="#000" stroke-width="2.65" shape-rendering="auto"/>
<line x1="722.3" y1="706.4" x2="726.3" y2="706.4" stroke="#000" stroke-width="2.65" shape-rendering="auto"/>
<line x1="731.2" y1="706.4" x2="734" y2="706.4" stroke="#000" stroke-width="2.65" shape-rendering="auto"/>
<line x1="697" y1="709.2" x2="702.1" y2="709.2" stroke="#000" stroke-width="2.65" shape-rendering="auto"/>
<line x1="702.8" y1="709.2" x2="709.8" y2="709.2" stroke="#000" stroke-width="2.65" shape-rendering="auto"/>
<line x1="710.5" y1="709.2" x2="717.5" y2="709.2" stroke="#000" stroke-width="2.65" shape-rendering="auto"/>
<line x1="718.7" y1="709.2" x2="725.7" y2="709.2" stroke="#000" stroke-width="2.65" shape-rendering="auto"/>
<line x1="727.1" y1="709.2" x2="732.9" y2="709.2" stroke="#000" stroke-width="2.65" shape-rendering="auto"/>
<line x1="734.0" y1="709.2" x2="734" y2="709.2" stroke="#000" stroke-width="2.65" shape-rendering="auto"/>
<line x1="697" y1="712.0" x2="701.8" y2="712.0" stroke="#000" stroke-width="2.65" shape-rendering="auto"/>
<line x1="703.1" y1="712.0" x2="706.6" y2="712.0" stroke="#000" stroke-width="2.65" shape-rendering="auto"/>
<line x1="707.7" y1="712.0" x2="713.4" y2="712.0" stroke="#000" stroke-width="2.65" shape-rendering="auto"/>
<line x1="714.8" y1="712.0" x2="722.7" y2="712.0" stroke="#000" stroke-width="2.65" shape-rendering="auto"/>
<line x1="723.2" y1="712.0" x2="728.9" y2="712.0" stroke="#000" stroke-width="2.65" shape-rendering="auto"/>
<line x1="729.9" y1="712.0" x2="734" y2="712.0" stroke="#000" stroke-width="2.65" shape-rendering="auto"/>
<line x1="697" y1="714.8" x2="701.1" y2="714.8" stroke="#000" stroke-width="2.65" shape-rendering="auto"/>
<line x1="702.0" y1="714.8" x2="709.5" y2="714.8" stroke="#000" stroke-width="2.65" shape-rendering="auto"/>
<line x1="713.9" y1="714.8" x2="718.3" y2="714.8" stroke="#000" stroke-width="2.65" shape-rendering="auto"/>
<line x1="718.9" y1="714.8" x2="723.4" y2="714.8" stroke="#000" stroke-width="2.65" shape-rendering="auto"/>
<line x1="725.0" y1="714.8" x2="729.2" y2="714.8" stroke="#000" stroke-width="2.65" shape-rendering="auto"/>
<line x1="730.5" y1="714.8" x2="734" y2="714.8" stroke="#000" stroke-width="2.65" shape-rendering="auto"/>
<line x1="697" y1="717.6" x2="700.5" y2="717.6" stroke="#000" stroke-width="2.65" shape-rendering="auto"/>
<line x1="701.9" y1="717.6" x2="705.5" y2="717.6" stroke="#000" stroke-width="2.65" shape-rendering="auto"/>
<line x1="706.1" y1="717.6" x2="712.7" y2="717.6" stroke="#000" stroke-width="2.65" shape-rendering="auto"/>
<line x1="714.3" y1="717.6" x2="722.0" y2="717.6" stroke="#000" stroke-width="2.65" shape-rendering="auto"/>
<line x1="730.0" y1="717.6" x2="734" y2="717.6" stroke="#000" stroke-width="2.65" shape-rendering="auto"/>
<line x1="697" y1="720.4" x2="703.1" y2="720.4" stroke="#000" stroke-width="2.65" shape-rendering="auto"/>
<line x1="704.1" y1="720.4" x2="709.0" y2="720.4" stroke="#000" stroke-width="2.65" shape-rendering="auto"/>
<line x1="710.0" y1="720.4" x2="716.0" y2="720.4" stroke="#000" stroke-width="2.65" shape-rendering="auto"/>
<line x1="717.2" y1="720.4" x2="722.7" y2="720.4" stroke="#000" stroke-width="2.65" shape-rendering="auto"/>
<line x1="723.7" y1="720.4" x2="729.3" y2="720.4" stroke="#000" stroke-width="2.65" shape-rendering="auto"/>
<line x1="730.8" y1="720.4" x2="734" y2="720.4" stroke="#000" stroke-width="2.65" shape-rendering="auto"/>
<line x1="697" y1="723.2" x2="700.3" y2="723.2" stroke="#000" stroke-width="2.65" shape-rendering="auto"/>
<line x1="701.7" y1="723.2" x2="708.5" y2="723.2" stroke="#000" stroke-width="2.65" shape-rendering="auto"/>
<line x1="709.6" y1="723.2" x2="712.8" y2="723.2" stroke="#000" stroke-width="2.65" shape-rendering="auto"/>
<line x1="713.3" y1="723.2" x2="717.9" y2="723.2" stroke="#000" stroke-width="2.65" shape-rendering="auto"/>
<line x1="719.5" y1="723.2" x2="723.5" y2="723.2" stroke="#000" stroke-width="2.65" shape-rendering="auto"/>
<line x1="724.8" y1="723.2" x2="729.6" y2="723.2" stroke="#000" stroke-width="2.65" shape-rendering="auto"/>
<line x1="730.9" y1="723.2" x2="734" y2="723.2" stroke="#000" stroke-width="2.65" shape-rendering="auto"/>
<line x1="705.9" y1="726.0" x2="713.2" y2="726.0" stroke="#000" stroke-width="2.65" shape-rendering="auto"/>
<line x1="714.0" y1="726.0" x2="717.8" y2="726.0" stroke="#000" stroke-width="2.65" shape-rendering="auto"/>
<line x1="718.9" y1="726.0" x2="724.8" y2="726.0" stroke="#000" stroke-width="2.65" shape-rendering="auto"/>
<line x1="725.6" y1="726.0" x2="731.4" y2="726.0" stroke="#000" stroke-width="2.65" shape-rendering="auto"/>
<line x1="697" y1="728.8" x2="702.6" y2="728.8" stroke="#000" stroke-width="2.65" shape-rendering="auto"/>
<line x1="703.9" y1="728.8" x2="708.4" y2="728.8" stroke="#000" stroke-width="2.65" shape-rendering="auto"/>
<line x1="713.8" y1="728.8" x2="720.6" y2="728.8" stroke="#000" stroke-width="2.65" shape-rendering="auto"/>
<line x1="722.0" y1="728.8" x2="728.8" y2="728.8" stroke="#000" stroke-width="2.65" shape-rendering="auto"/>
</g>
<path d="M584,666.6 L595,667.7 L604,670 L611,684" fill="none" stroke="#000" stroke-width="1.75"/>
<path d="M586.5,685 L593,695" fill="none" stroke="#000" stroke-width="1.75"/>
<line x1="520" y1="736" x2="532" y2="736" stroke="#000" stroke-width="2.55" shape-rendering="crispEdges"/>
<rect x="643" y="717.6" width="4.5" height="4.5" fill="#000" stroke="none" stroke-width="1"/>
<rect x="646.5" y="722.5" width="4.3" height="4.6" fill="none" stroke="#000" stroke-width="1.3"/>
<rect x="606.4" y="751" width="4.5" height="4.5" fill="#000" stroke="none" stroke-width="1"/>
<rect x="611.5" y="757" width="5" height="5" fill="#000" stroke="none" stroke-width="1"/>
<rect x="744.5" y="722.5" width="3.2" height="5.5" fill="#000" stroke="none" stroke-width="1"/>
<path d="M677,675 L679.6,670.5 L682,675 Z" fill="#000" stroke="#000" stroke-width="1.55"/>
<path d="M567,780.7 H573 M570,777.7 V783.7" fill="none" stroke="#000" stroke-width="2.15"/>
<rect x="576.5" y="770.5" width="4" height="3" fill="#000" stroke="none" stroke-width="1"/>
<line x1="765.5" y1="808" x2="765.5" y2="889" stroke="#000" stroke-width="1.75" stroke-dasharray="11 3.5" shape-rendering="crispEdges"/>
<g opacity="0.99">
<text x="554.7" y="195.3" font-size="9.6" font-weight="bold" font-style="normal" text-anchor="start" fill="#000" textLength="122.5" lengthAdjust="spacingAndGlyphs" stroke="#000" stroke-width="0.55">FOR DETAILED SITE PLAN</text>
<text x="554.7" y="207" font-size="9.6" font-weight="bold" font-style="normal" text-anchor="start" fill="#000" textLength="105.5" lengthAdjust="spacingAndGlyphs" stroke="#000" stroke-width="0.55">SEE DRAWING 1/A01-1</text>
<text x="266" y="291.2" font-size="8" font-weight="bold" font-style="normal" text-anchor="start" fill="#000" textLength="20" lengthAdjust="spacingAndGlyphs" stroke="#000" stroke-width="0.55">60.43</text>
<text x="521.7" y="291.2" font-size="8" font-weight="bold" font-style="normal" text-anchor="start" fill="#000" textLength="21.5" lengthAdjust="spacingAndGlyphs" stroke="#000" stroke-width="0.55">120.00</text>
<text x="805" y="291.2" font-size="8" font-weight="bold" font-style="normal" text-anchor="start" fill="#000" textLength="19.5" lengthAdjust="spacingAndGlyphs" stroke="#000" stroke-width="0.55">71.17</text>
<text x="701" y="560.6" font-size="9.3" font-weight="bold" font-style="normal" text-anchor="start" fill="#000" textLength="148.5" lengthAdjust="spacingAndGlyphs" stroke="#000" stroke-width="0.55">FUTURE DEVELOPMENT LANDS</text>
<text x="724" y="841.8" font-size="9.3" font-weight="bold" font-style="normal" text-anchor="start" fill="#000" textLength="148.5" lengthAdjust="spacingAndGlyphs" stroke="#000" stroke-width="0.55">FUTURE DEVELOPMENT LANDS</text>
<text x="387.5" y="820" font-size="9" font-weight="bold" font-style="normal" text-anchor="start" fill="#000" textLength="106.5" lengthAdjust="spacingAndGlyphs" stroke="#000" stroke-width="0.55">EXISTING INDUSTRIAL</text>
<text x="364" y="759.6" font-size="12.8" font-weight="bold" font-style="italic" text-anchor="start" fill="#000" textLength="162.7" lengthAdjust="spacingAndGlyphs" stroke="#000" stroke-width="0.8">ENTERPRISE CRESCENT</text>
<text x="296.5" y="726.6" font-size="8.4" font-weight="bold" font-style="italic" text-anchor="start" fill="#000" textLength="70.5" lengthAdjust="spacingAndGlyphs" stroke="#000" stroke-width="0.55">ENTERPRISE ACCESS</text>
<text x="774" y="801" font-size="7.5" font-weight="bold" font-style="italic" text-anchor="start" fill="#000" textLength="37" lengthAdjust="spacingAndGlyphs" stroke="#000" stroke-width="0.55">STREET 'A'</text>
<text x="823.7" y="801" font-size="7.5" font-weight="bold" font-style="italic" text-anchor="start" fill="#000" textLength="25" lengthAdjust="spacingAndGlyphs" stroke="#000" stroke-width="0.55">40.0m</text>
<text x="1024" y="567.5" font-size="9.3" font-weight="bold" font-style="normal" text-anchor="start" fill="#000" transform="rotate(-90 1024 567.5)" textLength="112.5" lengthAdjust="spacingAndGlyphs" stroke="#000" stroke-width="0.55">EXISTING RESIDENTIAL</text>
<text x="74.3" y="927.7" font-size="13" font-weight="bold" font-style="italic" text-anchor="start" fill="#000" transform="rotate(-90 74.3 927.7)" textLength="110" lengthAdjust="spacingAndGlyphs" stroke="#000" stroke-width="0.8">CLAPPISON AVE</text>
<text x="136" y="399.5" font-size="11.5" font-weight="bold" font-style="italic" text-anchor="start" fill="#000" transform="rotate(-79.8 136 399.5)" textLength="108" lengthAdjust="spacingAndGlyphs" stroke="#000" stroke-width="0.7">CLAPPISON AVE</text>
<text x="924" y="325" font-size="7.5" font-weight="bold" font-style="normal" text-anchor="start" fill="#000" transform="rotate(-90 924 325)" textLength="26" lengthAdjust="spacingAndGlyphs" stroke="#000" stroke-width="0.55">20.12</text>
<text x="924" y="375.5" font-size="7.5" font-weight="bold" font-style="normal" text-anchor="start" fill="#000" transform="rotate(-90 924 375.5)" textLength="43" lengthAdjust="spacingAndGlyphs" stroke="#000" stroke-width="0.55">SETBACK</text>
<text x="935" y="425" font-size="7" font-weight="bold" font-style="normal" text-anchor="start" fill="#000" transform="rotate(-90 935 425)" textLength="17" lengthAdjust="spacingAndGlyphs" stroke="#000" stroke-width="0.55">EXC.</text>
<text x="935" y="657.5" font-size="7.5" font-weight="bold" font-style="normal" text-anchor="start" fill="#000" transform="rotate(-90 935 657.5)" textLength="20" lengthAdjust="spacingAndGlyphs" stroke="#000" stroke-width="0.55">30.0</text>
<text x="926" y="790" font-size="7.5" font-weight="bold" font-style="normal" text-anchor="start" fill="#000" transform="rotate(-90 926 790)" textLength="29" lengthAdjust="spacingAndGlyphs" stroke="#000" stroke-width="0.55">20.12</text>
<text x="926" y="839" font-size="7.5" font-weight="bold" font-style="normal" text-anchor="start" fill="#000" transform="rotate(-90 926 839)" textLength="43" lengthAdjust="spacingAndGlyphs" stroke="#000" stroke-width="0.55">SETBACK</text>
<text x="293.3" y="510.9" font-size="24.4" font-weight="normal" font-style="normal" text-anchor="start" fill="#111" textLength="235" lengthAdjust="spacingAndGlyphs" stroke="#111" stroke-width="0.45">1 ENTERPRISE CRESCENT</text>
<text x="314.5" y="544.2" font-size="8.8" font-weight="bold" font-style="normal" text-anchor="start" fill="#000" textLength="182.5" lengthAdjust="spacingAndGlyphs" stroke="#000" stroke-width="0.55">New Manufacturing Building 1 (3 Units?)</text>
<text x="337.7" y="554.2" font-size="6.3" font-weight="bold" font-style="normal" text-anchor="start" fill="#000" textLength="137.5" lengthAdjust="spacingAndGlyphs" stroke="#000" stroke-width="0.55">Ground Floor = 8,391.39 s.m. (90,000 s.f.)</text>
<text x="359" y="574.3" font-size="6.3" font-weight="bold" font-style="normal" text-anchor="start" fill="#000" textLength="92" lengthAdjust="spacingAndGlyphs" stroke="#000" stroke-width="0.55">46 parking spaces required</text>
<text x="370.7" y="621.2" font-size="6.3" font-weight="bold" font-style="normal" text-anchor="start" fill="#000" textLength="71.5" lengthAdjust="spacingAndGlyphs" stroke="#000" stroke-width="0.55">Second Storey Office</text>
<text x="365" y="630.3" font-size="6.3" font-weight="bold" font-style="normal" text-anchor="start" fill="#000" textLength="83" lengthAdjust="spacingAndGlyphs" stroke="#000" stroke-width="0.55">1,829.00 s.m. (17,445 s.f.)</text>
<text x="469.6" y="625.8" font-size="6.3" font-weight="bold" font-style="normal" text-anchor="start" fill="#000" textLength="91" lengthAdjust="spacingAndGlyphs" stroke="#000" stroke-width="0.55">36 parking spaces required</text>
</g>
<rect x="346.0" y="292.3" width="4" height="2.2" fill="#000" stroke="none" stroke-width="1"/>
<rect x="355.0" y="292.3" width="4" height="2.2" fill="#000" stroke="none" stroke-width="1"/>
<rect x="705.2" y="292.3" width="4" height="2.2" fill="#000" stroke="none" stroke-width="1"/>
<rect x="714.2" y="292.3" width="4" height="2.2" fill="#000" stroke="none" stroke-width="1"/>
<rect x="207" y="292.3" width="4" height="2.2" fill="#000" stroke="none" stroke-width="1"/>
<rect x="909" y="292.3" width="4" height="2.2" fill="#000" stroke="none" stroke-width="1"/>
<rect x="931" y="333" width="3.5" height="3.5" fill="#000" stroke="none" stroke-width="1"/>
<rect x="932" y="786" width="3.5" height="3.5" fill="#000" stroke="none" stroke-width="1"/>
<rect x="1039" y="236" width="2.5" height="4" fill="#000" stroke="none" stroke-width="1"/>
<rect x="1036" y="339" width="6" height="3.5" fill="#000" stroke="none" stroke-width="1"/>
<rect x="1036" y="677" width="6" height="3.5" fill="#000" stroke="none" stroke-width="1"/>
<rect x="1031" y="730.5" width="8" height="3" fill="#000" stroke="none" stroke-width="1"/>
<rect x="1031" y="287" width="9" height="3.5" fill="none" stroke="#000" stroke-width="1.2"/>
<rect x="1039.5" y="845" width="2" height="2" fill="#000" stroke="none" stroke-width="1"/>
<rect x="1039.5" y="886.5" width="2" height="2" fill="#000" stroke="none" stroke-width="1"/>
</svg>
<div class="wm"></div><div class="wmt">COLLIERS, Brokerage</div>
</body></html>
